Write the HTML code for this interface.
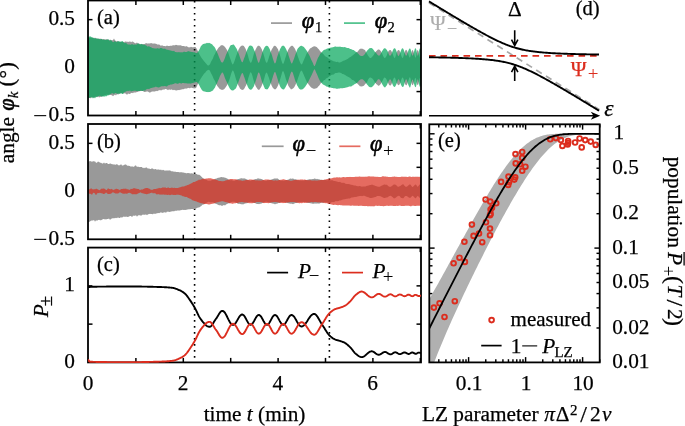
<!DOCTYPE html>
<html><head><meta charset="utf-8"><title>LZ figure</title>
<style>html,body{margin:0;padding:0;background:#fff;}body{width:685px;height:426px;overflow:hidden;font-family:"Liberation Serif",serif;}svg{display:block;will-change:transform;}</style>
</head><body>
<svg width="685" height="426" viewBox="0 0 685 426">
<defs>
<clipPath id="ca"><rect x="88.0" y="0.5" width="333.0" height="115.0"/></clipPath>
<clipPath id="cb"><rect x="88.0" y="124.0" width="333.0" height="115.3"/></clipPath>
<clipPath id="cc"><rect x="88.0" y="247.6" width="333.0" height="114.8"/></clipPath>
<clipPath id="ce"><rect x="429.3" y="124.3" width="170.4" height="238.1"/></clipPath>
</defs>
<rect width="685" height="426" fill="#fff"/>
<line x1="135.9" y1="0.5" x2="135.9" y2="5" stroke="#000" stroke-width="1.5"/>
<line x1="135.9" y1="115.5" x2="135.9" y2="111" stroke="#000" stroke-width="1.5"/>
<line x1="183.3" y1="0.5" x2="183.3" y2="5" stroke="#000" stroke-width="1.5"/>
<line x1="183.3" y1="115.5" x2="183.3" y2="111" stroke="#000" stroke-width="1.5"/>
<line x1="230.7" y1="0.5" x2="230.7" y2="5" stroke="#000" stroke-width="1.5"/>
<line x1="230.7" y1="115.5" x2="230.7" y2="111" stroke="#000" stroke-width="1.5"/>
<line x1="278.1" y1="0.5" x2="278.1" y2="5" stroke="#000" stroke-width="1.5"/>
<line x1="278.1" y1="115.5" x2="278.1" y2="111" stroke="#000" stroke-width="1.5"/>
<line x1="325.5" y1="0.5" x2="325.5" y2="5" stroke="#000" stroke-width="1.5"/>
<line x1="325.5" y1="115.5" x2="325.5" y2="111" stroke="#000" stroke-width="1.5"/>
<line x1="372.9" y1="0.5" x2="372.9" y2="5" stroke="#000" stroke-width="1.5"/>
<line x1="372.9" y1="115.5" x2="372.9" y2="111" stroke="#000" stroke-width="1.5"/>
<line x1="420.3" y1="0.5" x2="420.3" y2="5" stroke="#000" stroke-width="1.5"/>
<line x1="420.3" y1="115.5" x2="420.3" y2="111" stroke="#000" stroke-width="1.5"/>
<line x1="135.9" y1="124" x2="135.9" y2="128.5" stroke="#000" stroke-width="1.5"/>
<line x1="135.9" y1="239.3" x2="135.9" y2="234.8" stroke="#000" stroke-width="1.5"/>
<line x1="183.3" y1="124" x2="183.3" y2="128.5" stroke="#000" stroke-width="1.5"/>
<line x1="183.3" y1="239.3" x2="183.3" y2="234.8" stroke="#000" stroke-width="1.5"/>
<line x1="230.7" y1="124" x2="230.7" y2="128.5" stroke="#000" stroke-width="1.5"/>
<line x1="230.7" y1="239.3" x2="230.7" y2="234.8" stroke="#000" stroke-width="1.5"/>
<line x1="278.1" y1="124" x2="278.1" y2="128.5" stroke="#000" stroke-width="1.5"/>
<line x1="278.1" y1="239.3" x2="278.1" y2="234.8" stroke="#000" stroke-width="1.5"/>
<line x1="325.5" y1="124" x2="325.5" y2="128.5" stroke="#000" stroke-width="1.5"/>
<line x1="325.5" y1="239.3" x2="325.5" y2="234.8" stroke="#000" stroke-width="1.5"/>
<line x1="372.9" y1="124" x2="372.9" y2="128.5" stroke="#000" stroke-width="1.5"/>
<line x1="372.9" y1="239.3" x2="372.9" y2="234.8" stroke="#000" stroke-width="1.5"/>
<line x1="420.3" y1="124" x2="420.3" y2="128.5" stroke="#000" stroke-width="1.5"/>
<line x1="420.3" y1="239.3" x2="420.3" y2="234.8" stroke="#000" stroke-width="1.5"/>
<line x1="135.9" y1="247.6" x2="135.9" y2="252.1" stroke="#000" stroke-width="1.5"/>
<line x1="135.9" y1="362.4" x2="135.9" y2="357.9" stroke="#000" stroke-width="1.5"/>
<line x1="183.3" y1="247.6" x2="183.3" y2="252.1" stroke="#000" stroke-width="1.5"/>
<line x1="183.3" y1="362.4" x2="183.3" y2="357.9" stroke="#000" stroke-width="1.5"/>
<line x1="230.7" y1="247.6" x2="230.7" y2="252.1" stroke="#000" stroke-width="1.5"/>
<line x1="230.7" y1="362.4" x2="230.7" y2="357.9" stroke="#000" stroke-width="1.5"/>
<line x1="278.1" y1="247.6" x2="278.1" y2="252.1" stroke="#000" stroke-width="1.5"/>
<line x1="278.1" y1="362.4" x2="278.1" y2="357.9" stroke="#000" stroke-width="1.5"/>
<line x1="325.5" y1="247.6" x2="325.5" y2="252.1" stroke="#000" stroke-width="1.5"/>
<line x1="325.5" y1="362.4" x2="325.5" y2="357.9" stroke="#000" stroke-width="1.5"/>
<line x1="372.9" y1="247.6" x2="372.9" y2="252.1" stroke="#000" stroke-width="1.5"/>
<line x1="372.9" y1="362.4" x2="372.9" y2="357.9" stroke="#000" stroke-width="1.5"/>
<line x1="420.3" y1="247.6" x2="420.3" y2="252.1" stroke="#000" stroke-width="1.5"/>
<line x1="420.3" y1="362.4" x2="420.3" y2="357.9" stroke="#000" stroke-width="1.5"/>
<line x1="88" y1="91.57" x2="92.5" y2="91.57" stroke="#000" stroke-width="1.5"/>
<line x1="421" y1="91.57" x2="416.5" y2="91.57" stroke="#000" stroke-width="1.5"/>
<line x1="88" y1="67.6" x2="92.5" y2="67.6" stroke="#000" stroke-width="1.5"/>
<line x1="421" y1="67.6" x2="416.5" y2="67.6" stroke="#000" stroke-width="1.5"/>
<line x1="88" y1="43.62" x2="92.5" y2="43.62" stroke="#000" stroke-width="1.5"/>
<line x1="421" y1="43.62" x2="416.5" y2="43.62" stroke="#000" stroke-width="1.5"/>
<line x1="88" y1="19.65" x2="92.5" y2="19.65" stroke="#000" stroke-width="1.5"/>
<line x1="421" y1="19.65" x2="416.5" y2="19.65" stroke="#000" stroke-width="1.5"/>
<line x1="88" y1="215.28" x2="92.5" y2="215.28" stroke="#000" stroke-width="1.5"/>
<line x1="421" y1="215.28" x2="416.5" y2="215.28" stroke="#000" stroke-width="1.5"/>
<line x1="88" y1="191.3" x2="92.5" y2="191.3" stroke="#000" stroke-width="1.5"/>
<line x1="421" y1="191.3" x2="416.5" y2="191.3" stroke="#000" stroke-width="1.5"/>
<line x1="88" y1="167.33" x2="92.5" y2="167.33" stroke="#000" stroke-width="1.5"/>
<line x1="421" y1="167.33" x2="416.5" y2="167.33" stroke="#000" stroke-width="1.5"/>
<line x1="88" y1="143.35" x2="92.5" y2="143.35" stroke="#000" stroke-width="1.5"/>
<line x1="421" y1="143.35" x2="416.5" y2="143.35" stroke="#000" stroke-width="1.5"/>
<line x1="88" y1="324.13" x2="92.5" y2="324.13" stroke="#000" stroke-width="1.5"/>
<line x1="421" y1="324.13" x2="416.5" y2="324.13" stroke="#000" stroke-width="1.5"/>
<line x1="88" y1="285.87" x2="92.5" y2="285.87" stroke="#000" stroke-width="1.5"/>
<line x1="421" y1="285.87" x2="416.5" y2="285.87" stroke="#000" stroke-width="1.5"/>
<g clip-path="url(#ca)">
<path d="M88 37.8 L88.5 37.73 L89 37.66 L89.5 37.74 L90 37.82 L90.5 37.61 L91 37.4 L91.5 37.66 L92 37.93 L92.5 37.77 L93 37.61 L93.5 38.11 L94 38.6 L94.5 38.11 L95 37.61 L95.5 38.04 L96 38.46 L96.5 38.44 L97 38.41 L97.5 38.49 L98 38.57 L98.5 38.64 L99 38.73 L99.5 38.87 L100 39.03 L100.5 38.74 L101 38.48 L101.5 38.95 L102 39.44 L102.5 39.29 L103 39.15 L103.5 39.02 L104 38.9 L104.5 39.41 L105 39.91 L105.5 39.44 L106 38.95 L106.5 39.29 L107 39.59 L107.5 39.4 L108 39.18 L108.5 39.81 L109 40.42 L109.5 39.95 L110 39.47 L110.5 39.81 L111 40.14 L111.5 40.14 L112 40.15 L112.5 40.14 L113 40.15 L113.5 39.3 L114 38.49 L114.5 39.39 L115 40.31 L115.5 40.69 L116 41.08 L116.5 41.27 L117 41.47 L117.5 41.15 L118 40.81 L118.5 41.39 L119 41.93 L119.5 41.86 L120 41.74 L120.5 41.85 L121 41.94 L121.5 41.85 L122 41.74 L122.5 41.79 L123 41.84 L123.5 42.06 L124 42.27 L124.5 41.88 L125 41.5 L125.5 41.53 L126 41.58 L126.5 41.7 L127 41.83 L127.5 41.81 L128 41.81 L128.5 41.84 L129 41.9 L129.5 41.55 L130 41.22 L130.5 41.71 L131 42.21 L131.5 41.88 L132 41.55 L132.5 41.62 L133 41.69 L133.5 42.07 L134 42.45 L134.5 42.85 L135 43.24 L135.5 43.2 L136 43.17 L136.5 42.84 L137 42.51 L137.5 43.04 L138 43.55 L138.5 43.5 L139 43.43 L139.5 43.87 L140 44.28 L140.5 44.15 L141 44.01 L141.5 44.14 L142 44.26 L142.5 44.08 L143 43.89 L143.5 44.05 L144 44.19 L144.5 43.94 L145 43.69 L145.5 43.39 L146 43.08 L146.5 43.25 L147 43.42 L147.5 43.51 L148 43.6 L148.5 43.48 L149 43.37 L149.5 43.45 L150 43.54 L150.5 43.23 L151 42.93 L151.5 43.15 L152 43.37 L152.5 43.55 L153 43.73 L153.5 43.61 L154 43.5 L154.5 43.53 L155 43.58 L155.5 43.65 L156 43.72 L156.5 44.01 L157 44.29 L157.5 44.47 L158 44.65 L158.5 44.41 L159 44.17 L159.5 44.73 L160 45.28 L160.5 45.5 L161 45.7 L161.5 45.49 L162 45.27 L162.5 45.52 L163 45.74 L163.5 45.91 L164 46.06 L164.5 46.09 L165 46.11 L165.5 46.16 L166 46.2 L166.5 45.87 L167 45.53 L167.5 45.79 L168 46.03 L168.5 46.02 L169 46.01 L169.5 45.94 L170 45.87 L170.5 45.86 L171 45.85 L171.5 45.76 L172 45.67 L172.5 45.38 L173 45.1 L173.5 45.3 L174 45.51 L174.5 45.36 L175 45.22 L175.5 45.02 L176 44.82 L176.5 44.93 L177 45.05 L177.5 45.21 L178 45.38 L178.5 45.26 L179 45.16 L179.5 45.3 L180 45.45 L180.5 45.37 L181 45.31 L181.5 45.65 L182 45.99 L182.5 45.98 L183 45.98 L183.5 45.96 L184 45.94 L184.5 46.27 L185 46.6 L185.5 46.44 L186 46.28 L186.5 46.32 L187 46.36 L187.5 46.82 L188 47.26 L188.5 47.21 L189 47.15 L189.5 47.34 L190 47.52 L190.5 47.12 L191 46.71 L191.5 46.97 L192 47.21 L192.5 47.2 L193 47.17 L193.5 47.16 L194 47.12 L194.5 46.95 L195 46.88 L195.5 47.12 L196 47.65 L196.5 48.43 L197 49.44 L197.5 50.41 L198 51.33 L198.5 52.41 L199 53.49 L199.5 54.39 L200 55.2 L200.5 56.17 L201 57.12 L201.5 57.88 L202 58.62 L202.5 59.15 L203 59.67 L203.5 60.5 L204 61.31 L204.5 61.85 L205 62.34 L205.5 62.88 L206 63.38 L206.5 64.03 L207 64.66 L207.5 65.13 L208 65.51 L208.5 65.58 L209 65.3 L209.5 64.87 L210 64.24 L210.5 63.06 L211 61.81 L211.5 60.98 L212 60.11 L212.5 59.19 L213 58.26 L213.5 56.87 L214 55.49 L214.5 54.65 L215 53.83 L215.5 52.65 L216 51.51 L216.5 50.75 L217 50.04 L217.5 49.2 L218 48.42 L218.5 47.74 L219 47.15 L219.5 46.73 L220 46.4 L220.5 45.81 L221 45.3 L221.5 45.19 L222 45.17 L222.5 45.15 L223 45.22 L223.5 45.66 L224 46.21 L224.5 46.59 L225 47.08 L225.5 47.73 L226 48.49 L226.5 49.2 L227 50.02 L227.5 51.05 L228 52.19 L228.5 53.53 L229 54.95 L229.5 56.43 L230 57.97 L230.5 59.33 L231 60.71 L231.5 62.2 L232 63.57 L232.5 64.39 L233 64.37 L233.5 63.52 L234 62.2 L234.5 60.91 L235 59.57 L235.5 57.89 L236 56.23 L236.5 54.93 L237 53.69 L237.5 52.24 L238 50.89 L238.5 49.81 L239 48.85 L239.5 47.9 L240 47.08 L240.5 46.54 L241 46.14 L241.5 45.74 L242 45.5 L242.5 45.5 L243 45.67 L243.5 45.81 L244 46.13 L244.5 46.91 L245 47.85 L245.5 48.71 L246 49.73 L246.5 51.21 L247 52.82 L247.5 54.29 L248 55.86 L248.5 57.67 L249 59.48 L249.5 60.89 L250 62.04 L250.5 62.81 L251 62.69 L251.5 61.95 L252 60.72 L252.5 59 L253 57.22 L253.5 55.33 L254 53.5 L254.5 52.14 L255 50.9 L255.5 49.74 L256 48.74 L256.5 47.79 L257 47.01 L257.5 46.32 L258 45.82 L258.5 45.7 L259 45.78 L259.5 46 L260 46.41 L260.5 47.12 L261 48.01 L261.5 48.85 L262 49.86 L262.5 51.17 L263 52.62 L263.5 54.17 L264 55.79 L264.5 57.62 L265 59.42 L265.5 60.98 L266 62.21 L266.5 62.83 L267 62.64 L267.5 61.63 L268 60.2 L268.5 58.66 L269 57.05 L269.5 55.45 L270 53.91 L270.5 52.53 L271 51.26 L271.5 50.08 L272 49.04 L272.5 48.14 L273 47.4 L273.5 46.6 L274 45.98 L274.5 45.83 L275 45.87 L275.5 46.06 L276 46.45 L276.5 46.94 L277 47.63 L277.5 48.39 L278 49.33 L278.5 50.65 L279 52.11 L279.5 53.63 L280 55.25 L280.5 57.1 L281 58.99 L281.5 60.66 L282 62.23 L282.5 63.51 L283 64.04 L283.5 63.5 L284 62.24 L284.5 60.67 L285 59.01 L285.5 57.46 L286 55.95 L286.5 54.25 L287 52.64 L287.5 51.38 L288 50.23 L288.5 49.24 L289 48.38 L289.5 47.67 L290 47.11 L290.5 46.57 L291 46.18 L291.5 45.84 L292 45.66 L292.5 45.87 L293 46.24 L293.5 46.76 L294 47.43 L294.5 48.09 L295 48.89 L295.5 50.07 L296 51.36 L296.5 52.56 L297 53.86 L297.5 55.43 L298 57.04 L298.5 58.37 L299 59.7 L299.5 61 L300 62.21 L300.5 63.3 L301 64 L301.5 64.42 L302 64.13 L302.5 63.17 L303 62.08 L303.5 60.87 L304 59.66 L304.5 58.55 L305 57.47 L305.5 56.25 L306 55.09 L306.5 54 L307 52.96 L307.5 52.33 L308 51.76 L308.5 50.86 L309 50.02 L309.5 49.26 L310 48.56 L310.5 48.23 L311 47.96 L311.5 47.63 L312 47.36 L312.5 47.02 L313 46.73 L313.5 46.47 L314 46.28 L314.5 46.31 L315 46.42 L315.5 46.49 L316 46.65 L316.5 46.97 L317 47.37 L317.5 47.94 L318 48.58 L318.5 49.04 L319 49.55 L319.5 50.25 L320 50.96 L320.5 51.57 L321 52.15 L321.5 52.38 L322 52.57 L322.5 53.16 L323 53.74 L323.5 54.28 L324 54.82 L324.5 55.4 L325 55.96 L325.5 56.38 L326 56.8 L326.5 56.93 L327 57.05 L327.5 57.59 L328 58.11 L328.5 58.4 L329 58.68 L329.5 59.11 L330 59.53 L330.5 59.82 L331 60.11 L331.5 60.34 L332 60.57 L332.5 60.67 L333 60.76 L333.5 61.19 L334 61.61 L334.5 61.44 L335 61.25 L335.5 61.7 L336 62.12 L336.5 62.04 L337 61.94 L337.5 61.81 L338 61.65 L338.5 62.15 L339 62.63 L339.5 62.42 L340 62.15 L340.5 62.22 L341 62.26 L341.5 61.86 L342 61.45 L342.5 61.26 L343 61.06 L343.5 60.78 L344 60.49 L344.5 60.4 L345 60.31 L345.5 60.05 L346 59.8 L346.5 59.51 L347 59.22 L347.5 58.93 L348 58.64 L348.5 58.2 L349 57.76 L349.5 57.48 L350 57.2 L350.5 56.93 L351 56.66 L351.5 56.17 L352 55.67 L352.5 55.41 L353 55.15 L353.5 54.75 L354 54.35 L354.5 53.9 L355 53.45 L355.5 53.03 L356 52.6 L356.5 52.37 L357 52.1 L357.5 51.64 L358 51.17 L358.5 50.47 L359 49.81 L359.5 49.35 L360 48.95 L360.5 48.74 L361 48.6 L361.5 48.68 L362 48.84 L362.5 48.86 L363 48.96 L363.5 49.29 L364 49.72 L364.5 49.79 L365 49.95 L365.5 51.01 L366 52.15 L366.5 52.96 L367 53.82 L367.5 54.68 L368 55.54 L368.5 56.18 L369 56.73 L369.5 57.42 L370 57.91 L370.5 58.03 L371 57.96 L371.5 57.5 L372 56.86 L372.5 56.42 L373 55.88 L373.5 55.2 L374 54.5 L374.5 53.48 L375 52.49 L375.5 51.97 L376 51.52 L376.5 50.99 L377 50.56 L377.5 49.95 L378 49.47 L378.5 49.41 L379 49.48 L379.5 49.77 L380 50.23 L380.5 50.77 L381 51.49 L381.5 52.4 L382 53.43 L382.5 54.59 L383 55.76 L383.5 56.73 L384 57.49 L384.5 57.94 L385 57.98 L385.5 57.6 L386 56.86 L386.5 55.88 L387 54.77 L387.5 53.35 L388 51.99 L388.5 51.19 L389 50.6 L389.5 50.17 L390 50.04 L390.5 50.05 L391 50.41 L391.5 51.19 L392 52.28 L392.5 53.46 L393 54.75 L393.5 56.32 L394 57.54 L394.5 58 L395 57.68 L395.5 56.55 L396 55.02 L396.5 53.31 L397 51.75 L397.5 50.82 L398 50.3 L398.5 49.93 L399 50.02 L399.5 50.75 L400 51.84 L400.5 53.17 L401 54.67 L401.5 56.16 L402 57.39 L402.5 58.02 L403 57.75 L403.5 56.29 L404 54.32 L404.5 52.77 L405 51.49 L405.5 50.37 L406 49.84 L406.5 50.01 L407 50.68 L407.5 51.79 L408 53.22 L408.5 54.87 L409 56.5 L409.5 57.5 L410 57.45 L410.5 56.35 L411 54.3 L411.5 52.01 L412 50.45 L412.5 50.02 L413 50.53 L413.5 51.72 L414 53.43 L414.5 55.24 L415 56.9 L415.5 57.85 L416 56.92 L416.5 54.15 L417 51.31 L417.5 50.05 L418 50.21 L418.5 51.47 L419 53.8 L419.5 56.28 L420 57.68 L420.5 57.11 L421 54.94 L421 80.19 L420.5 78.14 L420 77.69 L419.5 79.01 L419 81.41 L418.5 83.7 L418 84.92 L417.5 85.11 L417 83.88 L416.5 81.36 L416 78.91 L415.5 77.7 L415 78.37 L414.5 80.08 L414 81.92 L413.5 83.64 L413 84.83 L412.5 85.31 L412 84.86 L411.5 83.25 L411 80.91 L410.5 78.6 L410 77.24 L409.5 77.51 L409 78.82 L408.5 80.3 L408 81.8 L407.5 83.29 L407 84.45 L406.5 85.13 L406 85.3 L405.5 84.8 L405 83.7 L404.5 82.3 L404 80.62 L403.5 78.92 L403 77.74 L402.5 77.47 L402 78.12 L401.5 79.2 L401 80.53 L400.5 82.14 L400 83.58 L399.5 84.49 L399 85.04 L398.5 85.28 L398 85.05 L397.5 84.35 L397 83.24 L396.5 81.91 L396 80.43 L395.5 79.03 L395 78.03 L394.5 77.48 L394 77.72 L393.5 78.69 L393 80.01 L392.5 81.57 L392 83.02 L391.5 84.22 L391 85.12 L390.5 85.48 L390 85.51 L389.5 85.24 L389 84.68 L388.5 83.82 L388 82.75 L387.5 81.65 L387 80.48 L386.5 79.48 L386 78.61 L385.5 77.95 L385 77.65 L384.5 77.44 L384 77.65 L383.5 78.66 L383 79.87 L382.5 80.74 L382 81.61 L381.5 82.57 L381 83.41 L380.5 84.13 L380 84.69 L379.5 85.36 L379 85.86 L378.5 85.7 L378 85.41 L377.5 85.02 L377 84.52 L376.5 84.14 L376 83.68 L375.5 83.09 L375 82.45 L374.5 81.64 L374 80.8 L373.5 80.04 L373 79.31 L372.5 78.77 L372 78.32 L371.5 77.96 L371 77.77 L370.5 77.51 L370 77.43 L369.5 77.75 L369 78.29 L368.5 78.93 L368 79.68 L367.5 81 L367 82.33 L366.5 82.8 L366 83.23 L365.5 83.82 L365 84.34 L364.5 85 L364 85.56 L363.5 85.88 L363 86.1 L362.5 86.35 L362 86.51 L361.5 86.4 L361 86.2 L360.5 86.36 L360 86.44 L359.5 85.87 L359 85.23 L358.5 84.75 L358 84.23 L357.5 83.71 L357 83.18 L356.5 82.94 L356 82.74 L355.5 82.11 L355 81.48 L354.5 81.05 L354 80.63 L353.5 80.35 L353 80.08 L352.5 79.9 L352 79.74 L351.5 79.28 L351 78.82 L350.5 78.37 L350 77.93 L349.5 77.6 L349 77.27 L348.5 76.98 L348 76.69 L347.5 76.51 L347 76.33 L346.5 75.96 L346 75.59 L345.5 75.34 L345 75.09 L344.5 74.71 L344 74.33 L343.5 74.2 L343 74.08 L342.5 73.88 L342 73.69 L341.5 73.32 L341 72.96 L340.5 72.83 L340 72.72 L339.5 72.6 L339 72.54 L338.5 72.58 L338 72.66 L337.5 72.82 L337 73.02 L336.5 72.96 L336 72.92 L335.5 73.06 L335 73.21 L334.5 73.67 L334 74.14 L333.5 74.39 L333 74.64 L332.5 74.63 L332 74.62 L331.5 74.9 L331 75.2 L330.5 75.64 L330 76.09 L329.5 76.28 L329 76.49 L328.5 76.93 L328 77.38 L327.5 77.76 L327 78.16 L326.5 78.34 L326 78.53 L325.5 79.31 L325 80.1 L324.5 80.1 L324 80.12 L323.5 80.71 L323 81.31 L322.5 81.88 L322 82.47 L321.5 82.72 L321 83.01 L320.5 83.72 L320 84.47 L319.5 85.13 L319 85.79 L318.5 86.28 L318 86.74 L317.5 87.43 L317 88.05 L316.5 88.2 L316 88.27 L315.5 88.53 L315 88.71 L314.5 88.79 L314 88.8 L313.5 88.64 L313 88.41 L312.5 88.26 L312 88.04 L311.5 87.65 L311 87.2 L310.5 86.71 L310 86.17 L309.5 85.58 L309 84.93 L308.5 84.26 L308 83.55 L307.5 82.95 L307 82.29 L306.5 81.17 L306 80.01 L305.5 78.96 L305 77.87 L304.5 76.71 L304 75.51 L303.5 74.33 L303 73.16 L302.5 72.04 L302 71.07 L301.5 70.62 L301 70.88 L300.5 71.47 L300 72.44 L299.5 73.88 L299 75.4 L298.5 76.83 L298 78.25 L297.5 79.81 L297 81.33 L296.5 82.55 L296 83.69 L295.5 84.83 L295 85.86 L294.5 86.71 L294 87.42 L293.5 88.03 L293 88.49 L292.5 88.78 L292 88.92 L291.5 89.25 L291 89.44 L290.5 88.81 L290 88.02 L289.5 87.45 L289 86.73 L288.5 85.94 L288 85 L287.5 83.59 L287 82.05 L286.5 80.86 L286 79.57 L285.5 77.74 L285 75.87 L284.5 74.27 L284 72.76 L283.5 71.55 L283 71.08 L282.5 71.59 L282 72.87 L281.5 74.63 L281 76.49 L280.5 78.2 L280 79.87 L279.5 81.4 L279 82.82 L278.5 84.22 L278 85.48 L277.5 86.53 L277 87.41 L276.5 88.22 L276 88.83 L275.5 89.24 L275 89.46 L274.5 89.24 L274 88.83 L273.5 88.53 L273 88.05 L272.5 87.27 L272 86.32 L271.5 85.16 L271 83.85 L270.5 82.65 L270 81.33 L269.5 79.7 L269 78.02 L268.5 76.73 L268 75.5 L267.5 74.04 L267 73 L266.5 72.54 L266 72.9 L265.5 74.1 L265 75.62 L264.5 77.46 L264 79.33 L263.5 80.8 L263 82.19 L262.5 83.65 L262 84.98 L261.5 86.15 L261 87.15 L260.5 88.04 L260 88.73 L259.5 89.43 L259 89.92 L258.5 89.77 L258 89.42 L257.5 88.96 L257 88.3 L256.5 87.61 L256 86.74 L255.5 85.71 L255 84.53 L254.5 83.04 L254 81.43 L253.5 79.89 L253 78.29 L252.5 76.36 L252 74.5 L251.5 73.2 L251 72.38 L250.5 72.26 L250 73.03 L249.5 74.38 L249 75.98 L248.5 77.57 L248 79.16 L247.5 81.19 L247 83.14 L246.5 84.32 L246 85.38 L245.5 86.36 L245 87.19 L244.5 88.22 L244 89.07 L243.5 89.5 L243 89.76 L242.5 89.89 L242 89.86 L241.5 89.66 L241 89.31 L240.5 88.93 L240 88.39 L239.5 87.56 L239 86.59 L238.5 85.66 L238 84.62 L237.5 83.29 L237 81.87 L236.5 80.61 L236 79.3 L235.5 77.46 L235 75.59 L234.5 74.08 L234 72.61 L233.5 71.27 L233 70.4 L232.5 70.52 L232 71.5 L231.5 72.85 L231 74.33 L230.5 76.1 L230 77.86 L229.5 79.31 L229 80.7 L228.5 81.92 L228 83.05 L227.5 84.17 L227 85.18 L226.5 86.05 L226 86.8 L225.5 87.6 L225 88.29 L224.5 88.79 L224 89.17 L223.5 89.5 L223 89.73 L222.5 89.85 L222 89.88 L221.5 89.73 L221 89.49 L220.5 89.36 L220 89.14 L219.5 88.64 L219 88.04 L218.5 87.49 L218 86.87 L217.5 86.18 L217 85.43 L216.5 84.47 L216 83.46 L215.5 82.3 L215 81.1 L214.5 80.36 L214 79.6 L213.5 78.4 L213 77.2 L212.5 76.05 L212 74.93 L211.5 74.09 L211 73.3 L210.5 72.08 L210 70.94 L209.5 70.37 L209 70.01 L208.5 69.83 L208 69.99 L207.5 70.2 L207 70.5 L206.5 70.99 L206 71.51 L205.5 72.21 L205 72.94 L204.5 73.35 L204 73.81 L203.5 74.59 L203 75.37 L202.5 75.99 L202 76.62 L201.5 77.43 L201 78.26 L200.5 79.07 L200 79.91 L199.5 80.71 L199 81.61 L198.5 82.68 L198 83.76 L197.5 84.84 L197 85.96 L196.5 87.12 L196 88.04 L195.5 88.33 L195 88.33 L194.5 88.38 L194 88.32 L193.5 88.23 L193 88.17 L192.5 88.04 L192 87.92 L191.5 87.75 L191 87.6 L190.5 87.9 L190 88.22 L189.5 88.13 L189 88.05 L188.5 87.94 L188 87.84 L187.5 88.18 L187 88.53 L186.5 88.58 L186 88.64 L185.5 88.61 L185 88.58 L184.5 88.82 L184 89.06 L183.5 89.13 L183 89.2 L182.5 89.22 L182 89.23 L181.5 89.43 L181 89.63 L180.5 89.73 L180 89.83 L179.5 90.02 L179 90.21 L178.5 90.1 L178 89.97 L177.5 90.16 L177 90.34 L176.5 90.38 L176 90.42 L175.5 90.33 L175 90.24 L174.5 90.06 L174 89.86 L173.5 90.12 L173 90.37 L172.5 89.95 L172 89.51 L171.5 89.56 L171 89.61 L170.5 89.78 L170 89.95 L169.5 89.54 L169 89.13 L168.5 89.68 L168 90.24 L167.5 89.85 L167 89.47 L166.5 89.24 L166 89.02 L165.5 89.06 L165 89.1 L164.5 89.38 L164 89.68 L163.5 89.54 L163 89.41 L162.5 89.68 L162 89.97 L161.5 90.22 L161 90.48 L160.5 90.2 L160 89.92 L159.5 90.14 L159 90.37 L158.5 90.54 L158 90.71 L157.5 90.93 L157 91.15 L156.5 91 L156 90.84 L155.5 91.2 L155 91.56 L154.5 91.48 L154 91.4 L153.5 91.49 L153 91.58 L152.5 91.59 L152 91.59 L151.5 91.82 L151 92.03 L150.5 92.33 L150 92.63 L149.5 92.4 L149 92.16 L148.5 91.89 L148 91.61 L147.5 91.55 L147 91.48 L146.5 91.6 L146 91.72 L145.5 91.85 L145 91.99 L144.5 91.89 L144 91.79 L143.5 91.43 L143 91.09 L142.5 91.07 L142 91.07 L141.5 90.98 L141 90.9 L140.5 91.05 L140 91.21 L139.5 91.24 L139 91.29 L138.5 91.57 L138 91.86 L137.5 91.96 L137 92.06 L136.5 92.2 L136 92.35 L135.5 92.5 L135 92.66 L134.5 92.45 L134 92.24 L133.5 92.74 L133 93.24 L132.5 93.04 L132 92.83 L131.5 92.91 L131 92.98 L130.5 93.46 L130 93.94 L129.5 93.88 L129 93.8 L128.5 93.65 L128 93.47 L127.5 94.2 L127 94.91 L126.5 94.29 L126 93.66 L125.5 93.61 L125 93.55 L124.5 93.37 L124 93.18 L123.5 93.6 L123 94.03 L122.5 93.4 L122 92.79 L121.5 92.98 L121 93.18 L120.5 93.26 L120 93.36 L119.5 93.65 L119 93.97 L118.5 94.32 L118 94.71 L117.5 94.32 L117 93.94 L116.5 94.66 L116 95.38 L115.5 94.96 L115 94.51 L114.5 94.88 L114 95.21 L113.5 95.8 L113 96.37 L112.5 95.86 L112 95.32 L111.5 95.13 L111 94.91 L110.5 94.9 L110 94.88 L109.5 94.75 L109 94.62 L108.5 94.69 L108 94.77 L107.5 94.77 L107 94.8 L106.5 94.82 L106 94.86 L105.5 94.96 L105 95.08 L104.5 95.25 L104 95.43 L103.5 95.66 L103 95.89 L102.5 96.18 L102 96.45 L101.5 96.6 L101 96.73 L100.5 96.82 L100 96.9 L99.5 97.17 L99 97.43 L98.5 96.84 L98 96.25 L97.5 96.83 L97 97.42 L96.5 97.12 L96 96.83 L95.5 96.7 L95 96.59 L94.5 97.42 L94 98.27 L93.5 97.73 L93 97.2 L92.5 97.15 L92 97.1 L91.5 97.73 L91 98.37 L90.5 98.24 L90 98.11 L89.5 98.1 L89 98.09 L88.5 98.32 L88 98.56Z" fill="#999999"/>
<line x1="194.6" y1="1.0" x2="194.6" y2="115.5" stroke="#000" stroke-width="1.6" stroke-dasharray="1.6 4.4"/>
<line x1="329.4" y1="1.0" x2="329.4" y2="115.5" stroke="#000" stroke-width="1.6" stroke-dasharray="1.6 4.4"/>
<path d="M88 36.99 L88.5 36.91 L89 36.83 L89.5 36.55 L90 36.27 L90.5 36.46 L91 36.65 L91.5 37.08 L92 37.52 L92.5 37.55 L93 37.58 L93.5 37.93 L94 38.28 L94.5 38.32 L95 38.38 L95.5 38.3 L96 38.23 L96.5 38.47 L97 38.72 L97.5 38.78 L98 38.84 L98.5 38.8 L99 38.76 L99.5 39.1 L100 39.42 L100.5 39.23 L101 39.02 L101.5 39.03 L102 39.02 L102.5 39.51 L103 39.98 L103.5 39.69 L104 39.39 L104.5 39.56 L105 39.73 L105.5 39.81 L106 39.91 L106.5 39.78 L107 39.67 L107.5 39.43 L108 39.21 L108.5 39.6 L109 40.01 L109.5 40.48 L110 40.95 L110.5 40.3 L111 39.66 L111.5 40.48 L112 41.28 L112.5 41.76 L113 42.2 L113.5 42.05 L114 41.86 L114.5 41.36 L115 40.82 L115.5 41.49 L116 42.13 L116.5 42 L117 41.86 L117.5 41.46 L118 41.08 L118.5 41.32 L119 41.58 L119.5 41.54 L120 41.54 L120.5 41.69 L121 41.86 L121.5 41.47 L122 41.1 L122.5 41.36 L123 41.62 L123.5 42.24 L124 42.86 L124.5 43.03 L125 43.19 L125.5 42.91 L126 42.62 L126.5 43.3 L127 43.97 L127.5 44.28 L128 44.56 L128.5 44.58 L129 44.58 L129.5 44.56 L130 44.53 L130.5 44.68 L131 44.82 L131.5 44.37 L132 43.9 L132.5 44.35 L133 44.79 L133.5 44.63 L134 44.47 L134.5 44.58 L135 44.68 L135.5 44.55 L136 44.42 L136.5 44.47 L137 44.53 L137.5 43.85 L138 43.19 L138.5 43.54 L139 43.91 L139.5 44.24 L140 44.58 L140.5 44.35 L141 44.13 L141.5 43.92 L142 43.74 L142.5 44.46 L143 45.2 L143.5 44.76 L144 44.33 L144.5 44.77 L145 45.21 L145.5 45.27 L146 45.35 L146.5 45.74 L147 46.13 L147.5 46.43 L148 46.74 L148.5 46.33 L149 45.93 L149.5 46.61 L150 47.27 L150.5 47.08 L151 46.89 L151.5 47.39 L152 47.88 L152.5 48.05 L153 48.21 L153.5 48.25 L154 48.29 L154.5 48.44 L155 48.58 L155.5 48.51 L156 48.43 L156.5 48.46 L157 48.48 L157.5 48.21 L158 47.94 L158.5 48.42 L159 48.9 L159.5 48.41 L160 47.93 L160.5 47.9 L161 47.88 L161.5 48.08 L162 48.29 L162.5 48.48 L163 48.69 L163.5 48.75 L164 48.81 L164.5 48.68 L165 48.56 L165.5 49.01 L166 49.47 L166.5 49.57 L167 49.68 L167.5 49.75 L168 49.83 L168.5 50.02 L169 50.21 L169.5 50.28 L170 50.34 L170.5 50.59 L171 50.83 L171.5 50.75 L172 50.66 L172.5 50.99 L173 51.31 L173.5 51 L174 50.68 L174.5 51.34 L175 51.99 L175.5 52.06 L176 52.12 L176.5 52.14 L177 52.15 L177.5 52.18 L178 52.19 L178.5 52.14 L179 52.08 L179.5 52.3 L180 52.51 L180.5 52.34 L181 52.16 L181.5 52.28 L182 52.38 L182.5 52.37 L183 52.35 L183.5 51.99 L184 51.62 L184.5 51.76 L185 51.89 L185.5 51.96 L186 52.03 L186.5 51.9 L187 51.77 L187.5 51.54 L188 51.32 L188.5 51.22 L189 51.13 L189.5 51.41 L190 51.69 L190.5 51.75 L191 51.84 L191.5 51.88 L192 51.95 L192.5 52.06 L193 52.18 L193.5 52.15 L194 52.13 L194.5 52.27 L195 52.44 L195.5 52.79 L196 53.04 L196.5 53.1 L197 52.97 L197.5 52.49 L198 51.83 L198.5 51.09 L199 50.23 L199.5 49.22 L200 48.21 L200.5 47.11 L201 46.06 L201.5 45.58 L202 45.22 L202.5 44.51 L203 43.97 L203.5 43.88 L204 43.83 L204.5 43.7 L205 43.61 L205.5 43.51 L206 43.42 L206.5 43.12 L207 42.83 L207.5 43.03 L208 43.24 L208.5 43 L209 42.81 L209.5 43.04 L210 43.3 L210.5 43.46 L211 43.66 L211.5 43.91 L212 44.22 L212.5 44.78 L213 45.42 L213.5 45.96 L214 46.57 L214.5 47.06 L215 47.63 L215.5 48.73 L216 49.91 L216.5 51.02 L217 52.21 L217.5 53.3 L218 54.44 L218.5 55.7 L219 56.99 L219.5 58.14 L220 59.26 L220.5 60.51 L221 61.63 L221.5 62.2 L222 62.42 L222.5 62.52 L223 62.15 L223.5 61.3 L224 60.23 L224.5 59.01 L225 57.72 L225.5 56.22 L226 54.72 L226.5 53.66 L227 52.63 L227.5 51.42 L228 50.27 L228.5 49.23 L229 48.29 L229.5 47.23 L230 46.29 L230.5 45.62 L231 45.07 L231.5 44.96 L232 44.98 L232.5 44.67 L233 44.49 L233.5 44.55 L234 44.73 L234.5 45.39 L235 46.18 L235.5 46.88 L236 47.7 L236.5 48.51 L237 49.43 L237.5 50.68 L238 52.03 L238.5 53.26 L239 54.56 L239.5 56.03 L240 57.51 L240.5 58.92 L241 60.23 L241.5 61.46 L242 62.27 L242.5 62.18 L243 61.43 L243.5 60.07 L244 58.42 L244.5 57.18 L245 55.89 L245.5 54.43 L246 53.02 L246.5 51.54 L247 50.16 L247.5 48.98 L248 47.95 L248.5 47.01 L249 46.23 L249.5 45.82 L250 45.59 L250.5 45.52 L251 45.63 L251.5 45.69 L252 45.94 L252.5 46.55 L253 47.35 L253.5 48.41 L254 49.64 L254.5 50.65 L255 51.8 L255.5 53.46 L256 55.22 L256.5 57.09 L257 58.96 L257.5 60.6 L258 61.98 L258.5 62.76 L259 62.68 L259.5 61.51 L260 59.84 L260.5 58.45 L261 56.98 L261.5 55.24 L262 53.56 L262.5 52.08 L263 50.72 L263.5 49.56 L264 48.56 L264.5 47.52 L265 46.66 L265.5 46.18 L266 45.91 L266.5 45.79 L267 45.86 L267.5 46.01 L268 46.34 L268.5 47.02 L269 47.87 L269.5 48.7 L270 49.69 L270.5 51.14 L271 52.72 L271.5 54.03 L272 55.44 L272.5 57.19 L273 58.99 L273.5 60.56 L274 61.99 L274.5 63.19 L275 63.57 L275.5 62.95 L276 61.67 L276.5 59.63 L277 57.49 L277.5 56.05 L278 54.67 L278.5 53.13 L279 51.7 L279.5 50.43 L280 49.32 L280.5 48.26 L281 47.38 L281.5 46.57 L282 45.95 L282.5 45.79 L283 45.83 L283.5 45.7 L284 45.75 L284.5 46.44 L285 47.31 L285.5 48.12 L286 49.07 L286.5 50.11 L287 51.27 L287.5 52.35 L288 53.52 L288.5 55.17 L289 56.87 L289.5 58.34 L290 59.81 L290.5 61.25 L291 62.49 L291.5 63.39 L292 63.52 L292.5 62.62 L293 61.19 L293.5 59.96 L294 58.65 L294.5 57.18 L295 55.75 L295.5 54.3 L296 52.95 L296.5 51.39 L297 49.94 L297.5 49.06 L298 48.31 L298.5 47.69 L299 47.2 L299.5 46.64 L300 46.22 L300.5 45.93 L301 45.76 L301.5 45.81 L302 45.96 L302.5 46.18 L303 46.49 L303.5 46.87 L304 47.32 L304.5 47.86 L305 48.48 L305.5 49.12 L306 49.82 L306.5 50.4 L307 51.03 L307.5 52.08 L308 53.17 L308.5 53.95 L309 54.77 L309.5 55.75 L310 56.77 L310.5 57.95 L311 59.16 L311.5 60.19 L312 61.24 L312.5 62.3 L313 63.37 L313.5 64.63 L314 65.8 L314.5 66.15 L315 65.41 L315.5 64.31 L316 63.08 L316.5 61.61 L317 60.14 L317.5 58.95 L318 57.82 L318.5 57.01 L319 56.27 L319.5 55.22 L320 54.27 L320.5 53.62 L321 53.07 L321.5 52.52 L322 52.05 L322.5 51.36 L323 50.7 L323.5 50.36 L324 50.05 L324.5 49.78 L325 49.53 L325.5 49.43 L326 49.36 L326.5 48.89 L327 48.44 L327.5 48.45 L328 48.49 L328.5 48.23 L329 47.99 L329.5 47.92 L330 47.86 L330.5 47.65 L331 47.46 L331.5 47.48 L332 47.5 L332.5 47.34 L333 47.18 L333.5 47.1 L334 47.02 L334.5 46.68 L335 46.34 L335.5 46.51 L336 46.68 L336.5 46.68 L337 46.69 L337.5 46.76 L338 46.85 L338.5 46.85 L339 46.87 L339.5 46.72 L340 46.59 L340.5 46.73 L341 46.88 L341.5 46.9 L342 46.92 L342.5 47.08 L343 47.24 L343.5 47.15 L344 47.06 L344.5 47.12 L345 47.18 L345.5 47.31 L346 47.46 L346.5 47.67 L347 47.89 L347.5 47.93 L348 47.99 L348.5 48.1 L349 48.22 L349.5 48.58 L350 48.96 L350.5 48.92 L351 48.9 L351.5 49.27 L352 49.65 L352.5 49.77 L353 49.91 L353.5 50.12 L354 50.34 L354.5 50.75 L355 51.18 L355.5 51.49 L356 51.83 L356.5 52.15 L357 52.53 L357.5 53.01 L358 53.52 L358.5 54.08 L359 54.62 L359.5 55.13 L360 55.58 L360.5 55.8 L361 55.9 L361.5 55.98 L362 55.93 L362.5 55.94 L363 55.82 L363.5 55.51 L364 55.07 L364.5 54.42 L365 53.69 L365.5 53.03 L366 52.35 L366.5 51.53 L367 50.73 L367.5 50.23 L368 49.8 L368.5 49.17 L369 48.63 L369.5 48.27 L370 48.04 L370.5 48.08 L371 48.23 L371.5 48.08 L372 48.04 L372.5 48.64 L373 49.33 L373.5 49.85 L374 50.44 L374.5 51.17 L375 51.95 L375.5 52.4 L376 52.87 L376.5 53.61 L377 54.29 L377.5 54.81 L378 55.18 L378.5 55.57 L379 55.71 L379.5 55.48 L380 54.99 L380.5 54.21 L381 53.28 L381.5 52.31 L382 51.33 L382.5 50.51 L383 49.81 L383.5 49.08 L384 48.54 L384.5 48.25 L385 48.19 L385.5 48.5 L386 49.05 L386.5 49.55 L387 50.26 L387.5 51.07 L388 51.98 L388.5 53.41 L389 54.73 L389.5 55.44 L390 55.73 L390.5 55.58 L391 54.9 L391.5 53.92 L392 52.72 L392.5 51.25 L393 49.9 L393.5 49.01 L394 48.48 L394.5 48.18 L395 48.3 L395.5 48.96 L396 50.03 L396.5 51.29 L397 52.7 L397.5 54.4 L398 55.71 L398.5 56.01 L399 55.56 L399.5 54.5 L400 53.09 L400.5 51.81 L401 50.62 L401.5 49.34 L402 48.39 L402.5 48.22 L403 48.57 L403.5 49.29 L404 50.54 L404.5 52.11 L405 53.77 L405.5 55.12 L406 55.71 L406.5 55.56 L407 54.67 L407.5 53.26 L408 51.74 L408.5 50.32 L409 49.18 L409.5 48.49 L410 48.43 L410.5 49.09 L411 50.66 L411.5 52.93 L412 54.94 L412.5 55.85 L413 55.27 L413.5 53.64 L414 51.74 L414.5 49.94 L415 48.6 L415.5 48.19 L416 48.87 L416.5 50.71 L417 53.34 L417.5 55.53 L418 55.76 L418.5 53.66 L419 50.78 L419.5 48.96 L420 48.3 L420.5 48.46 L421 49.83 L421 84.88 L420.5 86.51 L420 86.92 L419.5 86.05 L419 84.02 L418.5 81.32 L418 79.39 L417.5 79.62 L417 81.79 L416.5 84.61 L416 86.63 L415.5 87.25 L415 86.77 L414.5 85.45 L414 83.64 L413.5 81.67 L413 79.98 L412.5 79.42 L412 80.34 L411.5 82.28 L411 84.48 L410.5 86.54 L410 87.68 L409.5 87.3 L409 86.28 L408.5 85.25 L408 83.94 L407.5 82.16 L407 80.49 L406.5 79.44 L406 79.13 L405.5 80.12 L405 81.86 L404.5 83.54 L404 85.13 L403.5 86.39 L403 87.12 L402.5 87.08 L402 86.53 L401.5 85.75 L401 84.63 L400.5 83.51 L400 82.3 L399.5 80.75 L399 79.54 L398.5 79.27 L398 79.75 L397.5 81.11 L397 82.86 L396.5 83.96 L396 84.92 L395.5 86.06 L395 86.8 L394.5 87.01 L394 86.8 L393.5 86.26 L393 85.38 L392.5 84.23 L392 82.95 L391.5 81.48 L391 80.24 L390.5 79.42 L390 79.13 L389.5 79.63 L389 80.54 L388.5 81.46 L388 82.49 L387.5 83.75 L387 84.9 L386.5 85.66 L386 86.21 L385.5 86.91 L385 87.38 L384.5 87.34 L384 87.07 L383.5 86.32 L383 85.38 L382.5 84.64 L382 83.8 L381.5 82.74 L381 81.7 L380.5 80.78 L380 80.01 L379.5 79.49 L379 79.22 L378.5 79.17 L378 79.37 L377.5 79.94 L377 80.66 L376.5 81.45 L376 82.29 L375.5 82.82 L375 83.35 L374.5 84.15 L374 84.91 L373.5 85.43 L373 85.88 L372.5 86.45 L372 86.92 L371.5 87.15 L371 87.27 L370.5 87.26 L370 87.16 L369.5 87.03 L369 86.78 L368.5 86.13 L368 85.39 L367.5 85.03 L367 84.62 L366.5 83.85 L366 83.07 L365.5 82.25 L365 81.46 L364.5 80.99 L364 80.61 L363.5 80.02 L363 79.56 L362.5 79.35 L362 79.28 L361.5 79.23 L361 79.3 L360.5 79.5 L360 79.82 L359.5 80.16 L359 80.57 L358.5 81.23 L358 81.9 L357.5 82.33 L357 82.74 L356.5 83.14 L356 83.49 L355.5 83.71 L355 83.91 L354.5 84.2 L354 84.46 L353.5 84.96 L353 85.45 L352.5 85.57 L352 85.68 L351.5 86.26 L351 86.83 L350.5 86.54 L350 86.24 L349.5 86.45 L349 86.65 L348.5 86.86 L348 87.05 L347.5 87.21 L347 87.36 L346.5 87.38 L346 87.39 L345.5 87.63 L345 87.86 L344.5 87.88 L344 87.9 L343.5 88.03 L343 88.17 L342.5 88.23 L342 88.28 L341.5 88.3 L341 88.31 L340.5 88.32 L340 88.33 L339.5 88.54 L339 88.74 L338.5 88.6 L338 88.46 L337.5 88.72 L337 88.98 L336.5 88.79 L336 88.6 L335.5 88.44 L335 88.28 L334.5 88.35 L334 88.41 L333.5 88.17 L333 87.92 L332.5 87.98 L332 88.03 L331.5 87.84 L331 87.64 L330.5 87.57 L330 87.48 L329.5 87.66 L329 87.83 L328.5 87.31 L328 86.77 L327.5 86.71 L327 86.64 L326.5 86.4 L326 86.15 L325.5 85.77 L325 85.38 L324.5 85.16 L324 84.92 L323.5 84.71 L323 84.47 L322.5 83.97 L322 83.44 L321.5 82.86 L321 82.21 L320.5 81.65 L320 80.99 L319.5 80.03 L319 78.98 L318.5 77.92 L318 76.79 L317.5 75.57 L317 74.3 L316.5 73.28 L316 72.26 L315.5 70.89 L315 69.65 L314.5 69.19 L314 69.81 L313.5 70.79 L313 71.88 L312.5 73.01 L312 74.15 L311.5 75.27 L311 76.37 L310.5 77.35 L310 78.32 L309.5 79.29 L309 80.22 L308.5 81.2 L308 82.14 L307.5 83.1 L307 84.01 L306.5 84.76 L306 85.46 L305.5 86.32 L305 87.12 L304.5 87.6 L304 88.01 L303.5 88.61 L303 89.13 L302.5 89.19 L302 89.16 L301.5 89.46 L301 89.64 L300.5 89.5 L300 89.24 L299.5 88.92 L299 88.47 L298.5 87.74 L298 86.87 L297.5 86.07 L297 85.15 L296.5 83.74 L296 82.21 L295.5 81.14 L295 79.98 L294.5 78.25 L294 76.49 L293.5 74.88 L293 73.36 L292.5 72.18 L292 71.51 L291.5 71.68 L291 72.61 L290.5 73.79 L290 75.17 L289.5 76.71 L289 78.25 L288.5 79.93 L288 81.56 L287.5 82.93 L287 84.2 L286.5 85.23 L286 86.13 L285.5 87.19 L285 88.11 L284.5 88.86 L284 89.45 L283.5 89.48 L283 89.33 L282.5 89.27 L282 89.02 L281.5 88.49 L281 87.78 L280.5 87.15 L280 86.33 L279.5 85.05 L279 83.62 L278.5 82.03 L278 80.32 L277.5 78.63 L277 76.89 L276.5 75.38 L276 73.96 L275.5 72.56 L275 71.82 L274.5 72.14 L274 73.29 L273.5 74.76 L273 76.37 L272.5 77.97 L272 79.53 L271.5 81.17 L271 82.72 L270.5 84.04 L270 85.23 L269.5 86.26 L269 87.13 L268.5 87.97 L268 88.64 L267.5 89.13 L267 89.44 L266.5 89.37 L266 89.13 L265.5 89.1 L265 88.89 L264.5 87.86 L264 86.64 L263.5 85.54 L263 84.28 L262.5 82.9 L262 81.38 L261.5 79.89 L261 78.34 L260.5 76.57 L260 74.87 L259.5 73.45 L259 72.53 L258.5 72.48 L258 73.28 L257.5 74.94 L257 76.86 L256.5 78.45 L256 80.04 L255.5 81.6 L255 83.07 L254.5 84.62 L254 86.03 L253.5 86.9 L253 87.6 L252.5 88.45 L252 89.12 L251.5 89.53 L251 89.73 L250.5 89.69 L250 89.45 L249.5 89.17 L249 88.7 L248.5 88.1 L248 87.33 L247.5 86.12 L247 84.76 L246.5 83.54 L246 82.2 L245.5 80.77 L245 79.28 L244.5 77.84 L244 76.45 L243.5 74.94 L243 73.71 L242.5 73.07 L242 73.09 L241.5 73.88 L241 75.09 L240.5 76.32 L240 77.65 L239.5 79.07 L239 80.47 L238.5 81.86 L238 83.18 L237.5 84.55 L237 85.81 L236.5 87.11 L236 88.28 L235.5 88.69 L235 88.96 L234.5 89.49 L234 89.89 L233.5 90.32 L233 90.61 L232.5 90.47 L232 90.2 L231.5 90.13 L231 89.93 L230.5 89.35 L230 88.65 L229.5 87.91 L229 87.05 L228.5 86.05 L228 84.96 L227.5 83.8 L227 82.56 L226.5 81.51 L226 80.42 L225.5 79.31 L225 78.19 L224.5 76.66 L224 75.21 L223.5 73.94 L223 72.9 L222.5 72.45 L222 72.46 L221.5 73.14 L221 74.18 L220.5 75.02 L220 75.99 L219.5 77.3 L219 78.64 L218.5 79.76 L218 80.86 L217.5 82.12 L217 83.32 L216.5 84.23 L216 85.06 L215.5 86.36 L215 87.58 L214.5 88.16 L214 88.66 L213.5 89.58 L213 90.42 L212.5 90.66 L212 90.83 L211.5 91.25 L211 91.61 L210.5 91.78 L210 91.88 L209.5 91.92 L209 91.91 L208.5 92.05 L208 92.13 L207.5 92.07 L207 91.98 L206.5 91.97 L206 91.93 L205.5 91.71 L205 91.47 L204.5 91.56 L204 91.62 L203.5 91.37 L203 91.09 L202.5 90.69 L202 90.12 L201.5 89.38 L201 88.52 L200.5 87.64 L200 86.71 L199.5 85.76 L199 84.8 L198.5 83.97 L198 83.26 L197.5 82.69 L197 82.31 L196.5 82.07 L196 82.01 L195.5 82.24 L195 82.56 L194.5 82.6 L194 82.6 L193.5 82.87 L193 83.13 L192.5 83.08 L192 83.02 L191.5 83.33 L191 83.63 L190.5 83.53 L190 83.42 L189.5 83.44 L189 83.44 L188.5 83.51 L188 83.57 L187.5 83.51 L187 83.44 L186.5 83.34 L186 83.22 L185.5 83.24 L185 83.25 L184.5 83.13 L184 83 L183.5 82.94 L183 82.89 L182.5 82.96 L182 83.04 L181.5 83.39 L181 83.75 L180.5 83.24 L180 82.74 L179.5 83 L179 83.28 L178.5 83.51 L178 83.75 L177.5 83.74 L177 83.75 L176.5 83.51 L176 83.29 L175.5 83.31 L175 83.34 L174.5 83.57 L174 83.81 L173.5 83.91 L173 84.02 L172.5 84.24 L172 84.46 L171.5 84.45 L171 84.43 L170.5 84.57 L170 84.7 L169.5 85.01 L169 85.3 L168.5 85.27 L168 85.23 L167.5 85.91 L167 86.58 L166.5 86.44 L166 86.29 L165.5 86.15 L165 86 L164.5 86.09 L164 86.17 L163.5 86.2 L163 86.22 L162.5 86.28 L162 86.32 L161.5 86.36 L161 86.39 L160.5 86.63 L160 86.87 L159.5 87.24 L159 87.62 L158.5 87.38 L158 87.14 L157.5 87.21 L157 87.28 L156.5 86.9 L156 86.53 L155.5 86.82 L155 87.13 L154.5 87.14 L154 87.17 L153.5 87.38 L153 87.6 L152.5 87.63 L152 87.66 L151.5 87.88 L151 88.1 L150.5 88.26 L150 88.43 L149.5 88.8 L149 89.19 L148.5 88.95 L148 88.7 L147.5 88.93 L147 89.15 L146.5 89.36 L146 89.57 L145.5 90.2 L145 90.83 L144.5 90.5 L144 90.17 L143.5 90.58 L143 90.97 L142.5 90.95 L142 90.91 L141.5 90.76 L141 90.59 L140.5 90.81 L140 91.01 L139.5 91.05 L139 91.07 L138.5 91.01 L138 90.94 L137.5 90.97 L137 90.99 L136.5 91.02 L136 91.05 L135.5 90.81 L135 90.57 L134.5 90.69 L134 90.82 L133.5 90.87 L133 90.92 L132.5 90.92 L132 90.92 L131.5 91.37 L131 91.83 L130.5 91.05 L130 90.28 L129.5 90.77 L129 91.28 L128.5 90.98 L128 90.69 L127.5 91.01 L127 91.34 L126.5 91.35 L126 91.37 L125.5 91.76 L125 92.15 L124.5 92.15 L124 92.14 L123.5 92.96 L123 93.78 L122.5 93.88 L122 93.96 L121.5 93.49 L121 92.99 L120.5 93.4 L120 93.78 L119.5 93.63 L119 93.43 L118.5 93.55 L118 93.64 L117.5 93.73 L117 93.8 L116.5 93.39 L116 92.99 L115.5 92.95 L115 92.93 L114.5 93.53 L114 94.15 L113.5 93.74 L113 93.36 L112.5 93.27 L112 93.22 L111.5 93.49 L111 93.79 L110.5 93.98 L110 94.18 L109.5 94.82 L109 95.45 L108.5 95.35 L108 95.23 L107.5 95.53 L107 95.82 L106.5 96.13 L106 96.42 L105.5 96.21 L105 95.98 L104.5 96.44 L104 96.89 L103.5 96.49 L103 96.09 L102.5 96.39 L102 96.7 L101.5 96.61 L101 96.53 L100.5 96.11 L100 95.7 L99.5 95.78 L99 95.87 L98.5 96.2 L98 96.55 L97.5 96.68 L97 96.82 L96.5 96.79 L96 96.75 L95.5 97.67 L95 98.57 L94.5 97.79 L94 97 L93.5 97.77 L93 98.55 L92.5 97.95 L92 97.35 L91.5 97.33 L91 97.31 L90.5 97.41 L90 97.5 L89.5 97.76 L89 98.02 L88.5 98.08 L88 98.15Z" fill="#00a558" fill-opacity="0.7"/>
</g>
<g clip-path="url(#cb)">
<line x1="194.6" y1="124.5" x2="194.6" y2="239.3" stroke="#000" stroke-width="1.6" stroke-dasharray="1.6 4.4"/>
<line x1="329.4" y1="124.5" x2="329.4" y2="239.3" stroke="#000" stroke-width="1.6" stroke-dasharray="1.6 4.4"/>
<path d="M88 161.94 L88.5 161.71 L89 161.47 L89.5 161.26 L90 161.05 L90.5 161.13 L91 161.2 L91.5 161.61 L92 162.01 L92.5 161.47 L93 160.92 L93.5 161.21 L94 161.49 L94.5 161.42 L95 161.36 L95.5 162.05 L96 162.74 L96.5 162.7 L97 162.66 L97.5 162.03 L98 161.4 L98.5 161.68 L99 161.96 L99.5 162.36 L100 162.77 L100.5 162.73 L101 162.69 L101.5 163.04 L102 163.39 L102.5 163.4 L103 163.41 L103.5 162.89 L104 162.38 L104.5 163.01 L105 163.63 L105.5 163.35 L106 163.08 L106.5 163.07 L107 163.06 L107.5 163.52 L108 163.98 L108.5 164.05 L109 164.11 L109.5 163.74 L110 163.38 L110.5 163.59 L111 163.8 L111.5 164.04 L112 164.28 L112.5 164.32 L113 164.36 L113.5 164.39 L114 164.42 L114.5 164.49 L115 164.55 L115.5 164.63 L116 164.71 L116.5 164.3 L117 163.9 L117.5 164.52 L118 165.13 L118.5 165.15 L119 165.17 L119.5 165.17 L120 165.17 L120.5 164.64 L121 164.12 L121.5 164.87 L122 165.61 L122.5 165.5 L123 165.38 L123.5 165.14 L124 164.89 L124.5 164.73 L125 164.57 L125.5 164.48 L126 164.39 L126.5 164.99 L127 165.58 L127.5 165.7 L128 165.82 L128.5 165.78 L129 165.74 L129.5 165.89 L130 166.03 L130.5 166.38 L131 166.73 L131.5 166.44 L132 166.14 L132.5 166.39 L133 166.63 L133.5 166.66 L134 166.68 L134.5 166.13 L135 165.58 L135.5 165.54 L136 165.5 L136.5 166.27 L137 167.04 L137.5 166.73 L138 166.42 L138.5 166.78 L139 167.14 L139.5 167.01 L140 166.89 L140.5 166.92 L141 166.94 L141.5 167.02 L142 167.09 L142.5 167.64 L143 168.19 L143.5 167.88 L144 167.56 L144.5 167.95 L145 168.33 L145.5 167.76 L146 167.19 L146.5 167.41 L147 167.63 L147.5 168.19 L148 168.74 L148.5 168.53 L149 168.32 L149.5 168.63 L150 168.94 L150.5 169.01 L151 169.09 L151.5 168.61 L152 168.13 L152.5 168.38 L153 168.63 L153.5 169.06 L154 169.48 L154.5 169.21 L155 168.93 L155.5 169.12 L156 169.3 L156.5 169.49 L157 169.67 L157.5 169.57 L158 169.47 L158.5 169.44 L159 169.41 L159.5 169.74 L160 170.07 L160.5 169.84 L161 169.62 L161.5 170.01 L162 170.39 L162.5 170.05 L163 169.7 L163.5 170 L164 170.3 L164.5 170.5 L165 170.69 L165.5 170.58 L166 170.47 L166.5 170.46 L167 170.46 L167.5 170.5 L168 170.54 L168.5 170.55 L169 170.55 L169.5 170.39 L170 170.23 L170.5 170.76 L171 171.29 L171.5 171.29 L172 171.29 L172.5 171.36 L173 171.42 L173.5 171.57 L174 171.72 L174.5 171.67 L175 171.62 L175.5 171.8 L176 171.98 L176.5 172.03 L177 172.09 L177.5 172.08 L178 172.06 L178.5 172.12 L179 172.19 L179.5 172.28 L180 172.38 L180.5 172.14 L181 171.91 L181.5 172.25 L182 172.59 L182.5 172.43 L183 172.28 L183.5 172.62 L184 172.95 L184.5 172.83 L185 172.72 L185.5 172.95 L186 173.19 L186.5 173.18 L187 173.16 L187.5 173.02 L188 172.88 L188.5 173.06 L189 173.24 L189.5 173.27 L190 173.31 L190.5 173.4 L191 173.5 L191.5 173.37 L192 173.24 L192.5 173.47 L193 173.69 L193.5 173.85 L194 174 L194.5 173.85 L195 173.73 L195.5 173.83 L196 173.92 L196.5 174.04 L197 174.19 L197.5 174.52 L198 174.88 L198.5 174.73 L199 174.62 L199.5 174.93 L200 175.26 L200.5 175.77 L201 176.29 L201.5 176.72 L202 177.17 L202.5 177.66 L203 178.16 L203.5 178.49 L204 178.81 L204.5 179.15 L205 179.47 L205.5 179.49 L206 179.5 L206.5 179.86 L207 180.2 L207.5 180.41 L208 180.59 L208.5 180.74 L209 180.86 L209.5 180.71 L210 180.52 L210.5 180.66 L211 180.78 L211.5 180.29 L212 179.77 L212.5 179.92 L213 180.05 L213.5 179.96 L214 179.85 L214.5 179.35 L215 178.85 L215.5 178.74 L216 178.63 L216.5 178.39 L217 178.16 L217.5 178.01 L218 177.87 L218.5 177.76 L219 177.66 L219.5 177.59 L220 177.54 L220.5 177.26 L221 177.01 L221.5 177.08 L222 177.18 L222.5 177.18 L223 177.22 L223.5 177.31 L224 177.43 L224.5 177.53 L225 177.65 L225.5 177.87 L226 178.1 L226.5 178.35 L227 178.62 L227.5 178.82 L228 179.03 L228.5 179.41 L229 179.78 L229.5 180.06 L230 180.32 L230.5 180.36 L231 180.36 L231.5 180.21 L232 180.02 L232.5 180.38 L233 180.7 L233.5 180.8 L234 180.87 L234.5 180.73 L235 180.56 L235.5 180.27 L236 179.95 L236.5 179.74 L237 179.52 L237.5 179.28 L238 179.06 L238.5 178.97 L239 178.89 L239.5 178.73 L240 178.59 L240.5 178.43 L241 178.3 L241.5 178.31 L242 178.37 L242.5 178.41 L243 178.48 L243.5 178.38 L244 178.31 L244.5 178.38 L245 178.47 L245.5 178.87 L246 179.28 L246.5 179.28 L247 179.29 L247.5 179.7 L248 180.09 L248.5 180.16 L249 180.21 L249.5 180.56 L250 180.87 L250.5 180.83 L251 180.74 L251.5 180.34 L252 179.9 L252.5 180.02 L253 180.11 L253.5 179.92 L254 179.71 L254.5 179.4 L255 179.09 L255.5 179.11 L256 179.14 L256.5 178.92 L257 178.72 L257.5 178.53 L258 178.37 L258.5 178.45 L259 178.57 L259.5 178.66 L260 178.79 L260.5 178.83 L261 178.9 L261.5 179.11 L262 179.34 L262.5 179.57 L263 179.8 L263.5 180.1 L264 180.39 L264.5 180.57 L265 180.72 L265.5 180.78 L266 180.81 L266.5 180.66 L267 180.48 L267.5 180.32 L268 180.12 L268.5 180.14 L269 180.13 L269.5 180.03 L270 179.91 L270.5 179.78 L271 179.65 L271.5 179.5 L272 179.37 L272.5 179.13 L273 178.92 L273.5 178.83 L274 178.78 L274.5 178.51 L275 178.28 L275.5 178.47 L276 178.7 L276.5 178.41 L277 178.15 L277.5 178.5 L278 178.87 L278.5 179.22 L279 179.58 L279.5 179.9 L280 180.21 L280.5 180.44 L281 180.65 L281.5 180.56 L282 180.43 L282.5 180.52 L283 180.58 L283.5 180.74 L284 180.86 L284.5 180.54 L285 180.18 L285.5 180.26 L286 180.33 L286.5 180.11 L287 179.89 L287.5 179.76 L288 179.64 L288.5 179.41 L289 179.21 L289.5 178.88 L290 178.57 L290.5 178.61 L291 178.67 L291.5 178.64 L292 178.65 L292.5 178.61 L293 178.6 L293.5 178.78 L294 178.99 L294.5 179.22 L295 179.47 L295.5 179.18 L296 178.91 L296.5 179.54 L297 180.18 L297.5 180.15 L298 180.11 L298.5 180.36 L299 180.59 L299.5 180.49 L300 180.37 L300.5 180.49 L301 180.59 L301.5 180.61 L302 180.6 L302.5 180.49 L303 180.37 L303.5 180.54 L304 180.7 L304.5 180.35 L305 179.99 L305.5 180.1 L306 180.21 L306.5 180 L307 179.78 L307.5 179.82 L308 179.85 L308.5 179.54 L309 179.23 L309.5 179.18 L310 179.14 L310.5 179.23 L311 179.32 L311.5 179.25 L312 179.18 L312.5 179.12 L313 179.08 L313.5 178.97 L314 178.87 L314.5 178.62 L315 178.39 L315.5 178.75 L316 179.14 L316.5 178.98 L317 178.84 L317.5 179.03 L318 179.23 L318.5 179.28 L319 179.33 L319.5 179.44 L320 179.54 L320.5 179.72 L321 179.89 L321.5 179.87 L322 179.83 L322.5 180.01 L323 180.19 L323.5 179.95 L324 179.7 L324.5 179.81 L325 179.9 L325.5 180.01 L326 180.12 L326.5 180.17 L327 180.22 L327.5 180.23 L328 180.22 L328.5 180.04 L329 179.86 L329.5 179.96 L330 180.13 L330.5 180.32 L331 180.51 L331.5 180.22 L332 179.94 L332.5 180.3 L333 180.66 L333.5 180.82 L334 180.97 L334.5 181.01 L335 181.04 L335.5 181.2 L336 181.36 L336.5 181.38 L337 181.4 L337.5 181.65 L338 181.91 L338.5 182.01 L339 182.11 L339.5 181.9 L340 181.69 L340.5 182.13 L341 182.57 L341.5 182.67 L342 182.77 L342.5 182.86 L343 182.95 L343.5 182.85 L344 182.76 L344.5 183.11 L345 183.46 L345.5 183.64 L346 183.81 L346.5 183.92 L347 184.02 L347.5 183.95 L348 183.88 L348.5 184.09 L349 184.29 L349.5 184.31 L350 184.32 L350.5 184.62 L351 184.92 L351.5 184.84 L352 184.77 L352.5 185 L353 185.24 L353.5 185.34 L354 185.45 L354.5 185.43 L355 185.4 L355.5 185.61 L356 185.81 L356.5 185.91 L357 186.02 L357.5 186.13 L358 186.23 L358.5 186.18 L359 186.13 L359.5 186.02 L360 185.9 L360.5 186.24 L361 186.56 L361.5 186.6 L362 186.64 L362.5 186.62 L363 186.59 L363.5 186.6 L364 186.59 L364.5 186.52 L365 186.42 L365.5 186.4 L366 186.37 L366.5 186.11 L367 185.84 L367.5 185.81 L368 185.77 L368.5 185.55 L369 185.34 L369.5 185.14 L370 184.97 L370.5 184.99 L371 185.04 L371.5 184.74 L372 184.47 L372.5 184.74 L373 185.04 L373.5 185.14 L374 185.25 L374.5 185.54 L375 185.85 L375.5 185.9 L376 185.96 L376.5 186.27 L377 186.57 L377.5 186.62 L378 186.63 L378.5 186.69 L379 186.69 L379.5 186.73 L380 186.69 L380.5 186.32 L381 185.9 L381.5 185.73 L382 185.56 L382.5 185.34 L383 185.16 L383.5 184.81 L384 184.52 L384.5 184.48 L385 184.51 L385.5 184.63 L386 184.82 L386.5 184.73 L387 184.69 L387.5 185.3 L388 185.93 L388.5 186.24 L389 186.5 L389.5 186.71 L390 186.8 L390.5 186.83 L391 186.71 L391.5 186.32 L392 185.85 L392.5 185.54 L393 185.27 L393.5 184.65 L394 184.14 L394.5 184.4 L395 184.79 L395.5 184.77 L396 184.87 L396.5 185.47 L397 186.11 L397.5 186.46 L398 186.69 L398.5 186.64 L399 186.4 L399.5 186.36 L400 186.22 L400.5 185.82 L401 185.44 L401.5 185.08 L402 184.82 L402.5 184.38 L403 184.1 L403.5 184.54 L404 185.13 L404.5 185.7 L405 186.28 L405.5 186.67 L406 186.84 L406.5 186.8 L407 186.55 L407.5 186.16 L408 185.72 L408.5 185.28 L409 184.9 L409.5 184.54 L410 184.37 L410.5 184.67 L411 185.23 L411.5 186 L412 186.68 L412.5 186.92 L413 186.76 L413.5 186.27 L414 185.69 L414.5 185.15 L415 184.75 L415.5 184.55 L416 184.69 L416.5 185.36 L417 186.26 L417.5 186.67 L418 186.54 L418.5 186.05 L419 185.34 L419.5 184.64 L420 184.28 L420.5 184.51 L421 185.11 L421 197.33 L420.5 197.86 L420 198.04 L419.5 197.65 L419 196.92 L418.5 196.45 L418 196.22 L417.5 196.11 L417 196.55 L416.5 197.33 L416 197.9 L415.5 198.18 L415 198.14 L414.5 197.61 L414 196.95 L413.5 196.42 L413 195.98 L412.5 195.83 L412 196.09 L411.5 196.68 L411 197.35 L410.5 197.73 L410 197.84 L409.5 197.85 L409 197.67 L408.5 197.34 L408 196.92 L407.5 196.57 L407 196.26 L406.5 196.05 L406 196.04 L405.5 196.03 L405 196.22 L404.5 196.82 L404 197.4 L403.5 198.02 L403 198.48 L402.5 198.18 L402 197.73 L401.5 197.95 L401 198.08 L400.5 197.24 L400 196.39 L399.5 196.03 L399 195.79 L398.5 195.87 L398 196.15 L397.5 196.23 L397 196.42 L396.5 196.94 L396 197.41 L395.5 197.87 L395 198.22 L394.5 198.36 L394 198.38 L393.5 197.96 L393 197.43 L392.5 197.12 L392 196.77 L391.5 196.27 L391 195.84 L390.5 195.84 L390 195.99 L389.5 196.01 L389 196.14 L388.5 196.62 L388 197.14 L387.5 197.3 L387 197.44 L386.5 197.55 L386 197.61 L385.5 197.8 L385 197.91 L384.5 197.99 L384 198 L383.5 197.82 L383 197.6 L382.5 197.26 L382 196.89 L381.5 196.71 L381 196.54 L380.5 196.33 L380 196.16 L379.5 196.06 L379 196.04 L378.5 196.04 L378 196.11 L377.5 196.01 L377 195.94 L376.5 196.4 L376 196.87 L375.5 196.89 L375 196.9 L374.5 197.13 L374 197.34 L373.5 197.61 L373 197.85 L372.5 197.84 L372 197.8 L371.5 197.92 L371 198.01 L370.5 197.98 L370 197.91 L369.5 197.66 L369 197.39 L368.5 197.28 L368 197.17 L367.5 197.01 L367 196.87 L366.5 196.66 L366 196.47 L365.5 196.19 L365 195.93 L364.5 195.86 L364 195.81 L363.5 195.81 L363 195.83 L362.5 195.98 L362 196.14 L361.5 195.98 L361 195.82 L360.5 195.93 L360 196.03 L359.5 196.09 L359 196.15 L358.5 196.23 L358 196.32 L357.5 196.52 L357 196.72 L356.5 196.87 L356 197.01 L355.5 196.94 L355 196.86 L354.5 197.08 L354 197.3 L353.5 197.29 L353 197.29 L352.5 197.4 L352 197.51 L351.5 197.58 L351 197.64 L350.5 198.08 L350 198.52 L349.5 198.56 L349 198.61 L348.5 198.55 L348 198.5 L347.5 198.65 L347 198.8 L346.5 198.86 L346 198.91 L345.5 199.07 L345 199.25 L344.5 199.31 L344 199.37 L343.5 199.45 L343 199.53 L342.5 199.65 L342 199.78 L341.5 200.12 L341 200.45 L340.5 200.39 L340 200.32 L339.5 200.57 L339 200.82 L338.5 200.96 L338 201.11 L337.5 201.16 L337 201.22 L336.5 201.17 L336 201.12 L335.5 201.27 L335 201.41 L334.5 201.77 L334 202.13 L333.5 202.09 L333 202.05 L332.5 202.09 L332 202.14 L331.5 202.27 L331 202.39 L330.5 202.69 L330 202.97 L329.5 202.67 L329 202.31 L328.5 202.52 L328 202.74 L327.5 202.52 L327 202.31 L326.5 202.3 L326 202.3 L325.5 202.28 L325 202.26 L324.5 202.33 L324 202.41 L323.5 202.79 L323 203.17 L322.5 202.86 L322 202.55 L321.5 202.68 L321 202.82 L320.5 203.05 L320 203.29 L319.5 203.5 L319 203.71 L318.5 203.56 L318 203.41 L317.5 203.4 L317 203.39 L316.5 203.53 L316 203.66 L315.5 203.6 L315 203.54 L314.5 203.62 L314 203.7 L313.5 203.75 L313 203.8 L312.5 203.66 L312 203.52 L311.5 203.45 L311 203.37 L310.5 203.28 L310 203.17 L309.5 203.08 L309 202.98 L308.5 203.05 L308 203.11 L307.5 202.81 L307 202.5 L306.5 202.4 L306 202.3 L305.5 202.19 L305 202.08 L304.5 202.01 L304 201.95 L303.5 201.97 L303 202 L302.5 201.89 L302 201.8 L301.5 201.94 L301 202.1 L300.5 202.05 L300 202.03 L299.5 201.97 L299 201.94 L298.5 202.27 L298 202.62 L297.5 202.75 L297 202.89 L296.5 202.9 L296 202.92 L295.5 203.11 L295 203.28 L294.5 203.44 L294 203.58 L293.5 203.98 L293 204.37 L292.5 204.06 L292 203.73 L291.5 203.68 L291 203.61 L290.5 203.73 L290 203.83 L289.5 203.6 L289 203.34 L288.5 203.24 L288 203.13 L287.5 202.97 L287 202.81 L286.5 202.82 L286 202.83 L285.5 202.47 L285 202.13 L284.5 201.95 L284 201.8 L283.5 201.86 L283 201.95 L282.5 201.96 L282 202.01 L281.5 201.98 L281 201.98 L280.5 202.49 L280 203.01 L279.5 202.89 L279 202.78 L278.5 203.05 L278 203.32 L277.5 203.6 L277 203.85 L276.5 203.81 L276 203.74 L275.5 204.1 L275 204.43 L274.5 204.11 L274 203.76 L273.5 203.65 L273 203.52 L272.5 203.54 L272 203.54 L271.5 203.21 L271 202.86 L270.5 202.95 L270 203.04 L269.5 202.63 L269 202.23 L268.5 202.16 L268 202.11 L267.5 201.88 L267 201.69 L266.5 201.68 L266 201.71 L265.5 201.82 L265 201.96 L264.5 202.14 L264 202.34 L263.5 202.58 L263 202.83 L262.5 203.07 L262 203.31 L261.5 203.57 L261 203.81 L260.5 203.76 L260 203.67 L259.5 203.95 L259 204.19 L258.5 204.06 L258 203.89 L257.5 203.95 L257 203.97 L256.5 203.84 L256 203.69 L255.5 203.36 L255 203.01 L254.5 203.02 L254 203.02 L253.5 202.72 L253 202.43 L252.5 202.26 L252 202.13 L251.5 201.86 L251 201.63 L250.5 201.78 L250 201.98 L249.5 201.97 L249 201.99 L248.5 202.31 L248 202.65 L247.5 202.9 L247 203.16 L246.5 203.27 L246 203.37 L245.5 203.5 L245 203.61 L244.5 203.86 L244 204.07 L243.5 204.29 L243 204.48 L242.5 204.36 L242 204.2 L241.5 204.19 L241 204.14 L240.5 204.09 L240 204 L239.5 203.87 L239 203.72 L238.5 203.82 L238 203.9 L237.5 203.44 L237 202.97 L236.5 202.82 L236 202.69 L235.5 202.33 L235 201.99 L234.5 201.87 L234 201.78 L233.5 201.78 L233 201.82 L232.5 201.82 L232 201.86 L231.5 202.06 L231 202.3 L230.5 202.46 L230 202.64 L229.5 202.88 L229 203.14 L228.5 203.32 L228 203.51 L227.5 203.79 L227 204.07 L226.5 204.24 L226 204.4 L225.5 204.94 L225 205.47 L224.5 205.27 L224 205.04 L223.5 205.19 L223 205.32 L222.5 205.65 L222 205.96 L221.5 205.67 L221 205.35 L220.5 205.34 L220 205.31 L219.5 205.24 L219 205.15 L218.5 204.91 L218 204.66 L217.5 204.5 L217 204.33 L216.5 204.01 L216 203.69 L215.5 203.63 L215 203.58 L214.5 203.15 L214 202.73 L213.5 202.55 L213 202.38 L212.5 202.34 L212 202.31 L211.5 202.36 L211 202.44 L210.5 202.31 L210 202.2 L209.5 201.92 L209 201.69 L208.5 201.87 L208 202.08 L207.5 202.29 L207 202.53 L206.5 202.75 L206 203 L205.5 203.17 L205 203.36 L204.5 203.93 L204 204.52 L203.5 204.51 L203 204.51 L202.5 204.85 L202 205.2 L201.5 205.68 L201 206.16 L200.5 206.52 L200 206.87 L199.5 207.19 L199 207.49 L198.5 207.56 L198 207.6 L197.5 207.87 L197 208.12 L196.5 208.32 L196 208.5 L195.5 208.81 L195 209.13 L194.5 209.02 L194 208.87 L193.5 208.91 L193 208.94 L192.5 209 L192 209.06 L191.5 209.04 L191 209.02 L190.5 209.17 L190 209.33 L189.5 209.27 L189 209.21 L188.5 209.36 L188 209.51 L187.5 209.47 L187 209.42 L186.5 209.72 L186 210.02 L185.5 209.9 L185 209.78 L184.5 209.93 L184 210.08 L183.5 209.92 L183 209.75 L182.5 209.85 L182 209.94 L181.5 210.1 L181 210.26 L180.5 210.24 L180 210.21 L179.5 210.43 L179 210.65 L178.5 210.49 L178 210.33 L177.5 210.59 L177 210.85 L176.5 210.85 L176 210.85 L175.5 210.84 L175 210.83 L174.5 211.11 L174 211.38 L173.5 211.2 L173 211.02 L172.5 211.28 L172 211.55 L171.5 211.43 L171 211.32 L170.5 211.7 L170 212.09 L169.5 211.91 L169 211.71 L168.5 211.74 L168 211.76 L167.5 211.67 L167 211.59 L166.5 212.22 L166 212.85 L165.5 212.5 L165 212.14 L164.5 212.28 L164 212.43 L163.5 212.6 L163 212.78 L162.5 212.84 L162 212.89 L161.5 212.62 L161 212.35 L160.5 212.6 L160 212.86 L159.5 213 L159 213.14 L158.5 213.11 L158 213.08 L157.5 213.22 L157 213.36 L156.5 213.44 L156 213.52 L155.5 213.74 L155 213.97 L154.5 213.73 L154 213.5 L153.5 213.86 L153 214.22 L152.5 214.13 L152 214.03 L151.5 214.04 L151 214.06 L150.5 213.89 L150 213.73 L149.5 213.92 L149 214.11 L148.5 214.21 L148 214.31 L147.5 214.8 L147 215.3 L146.5 214.86 L146 214.42 L145.5 214.58 L145 214.74 L144.5 214.76 L144 214.79 L143.5 214.67 L143 214.55 L142.5 214.75 L142 214.96 L141.5 215.39 L141 215.82 L140.5 215.57 L140 215.32 L139.5 215.31 L139 215.3 L138.5 215.36 L138 215.42 L137.5 216.05 L137 216.67 L136.5 215.97 L136 215.27 L135.5 215.55 L135 215.83 L134.5 215.85 L134 215.87 L133.5 215.74 L133 215.61 L132.5 216.39 L132 217.18 L131.5 216.57 L131 215.96 L130.5 216.04 L130 216.12 L129.5 216.29 L129 216.45 L128.5 216.74 L128 217.04 L127.5 216.9 L127 216.77 L126.5 216.66 L126 216.54 L125.5 216.82 L125 217.11 L124.5 216.86 L124 216.62 L123.5 216.7 L123 216.79 L122.5 217.31 L122 217.84 L121.5 217.41 L121 216.96 L120.5 217.45 L120 217.94 L119.5 217.99 L119 218.04 L118.5 217.69 L118 217.33 L117.5 217.74 L117 218.15 L116.5 217.93 L116 217.72 L115.5 218.04 L115 218.37 L114.5 218.15 L114 217.94 L113.5 218.17 L113 218.4 L112.5 218.35 L112 218.29 L111.5 218.64 L111 219 L110.5 219.38 L110 219.76 L109.5 219.18 L109 218.6 L108.5 218.85 L108 219.1 L107.5 219.1 L107 219.11 L106.5 219.25 L106 219.39 L105.5 219.27 L105 219.15 L104.5 219.22 L104 219.29 L103.5 219.11 L103 218.92 L102.5 219.4 L102 219.87 L101.5 220.08 L101 220.3 L100.5 220.27 L100 220.23 L99.5 219.98 L99 219.72 L98.5 219.88 L98 220.04 L97.5 220.43 L97 220.82 L96.5 220.48 L96 220.13 L95.5 220.9 L95 221.68 L94.5 220.85 L94 220.01 L93.5 220.25 L93 220.49 L92.5 220.47 L92 220.44 L91.5 220.53 L91 220.63 L90.5 221.08 L90 221.54 L89.5 221.79 L89 222.05 L88.5 221.99 L88 221.93Z" fill="#999999"/>
<path d="M88 189.55 L88.5 189.34 L89 189.15 L89.5 189.21 L90 189.34 L90.5 188.77 L91 188.29 L91.5 188.6 L92 188.98 L92.5 189.22 L93 189.5 L93.5 189.55 L94 189.07 L94.5 189.28 L95 189.53 L95.5 189.07 L96 188.67 L96.5 188.83 L97 189.04 L97.5 189.26 L98 189.52 L98.5 189.77 L99 190.05 L99.5 190.17 L100 189.99 L100.5 189.4 L101 188.84 L101.5 188.83 L102 188.86 L102.5 188.65 L103 188.51 L103.5 188.6 L104 188.74 L104.5 188.83 L105 188.96 L105.5 189.49 L106 190.04 L106.5 190 L107 189.66 L107.5 188.94 L108 188.24 L108.5 188.54 L109 188.89 L109.5 189.03 L110 189.23 L110.5 189.21 L111 189.24 L111.5 188.96 L112 188.71 L112.5 189.51 L113 190.32 L113.5 189.91 L114 189.5 L114.5 189.48 L115 189.48 L115.5 189.09 L116 188.76 L116.5 188.81 L117 188.91 L117.5 189.1 L118 189.33 L118.5 189.46 L119 189.62 L119.5 189.89 L120 190.16 L120.5 189.61 L121 189.07 L121.5 189.08 L122 189.11 L122.5 188.97 L123 188.85 L123.5 188.83 L124 188.84 L124.5 188.84 L125 188.87 L125.5 188.68 L126 188.53 L126.5 189.03 L127 189.55 L127.5 189.27 L128 189.01 L128.5 189.47 L129 189.92 L129.5 189.87 L130 189.81 L130.5 189.32 L131 188.83 L131.5 188.9 L132 188.99 L132.5 188.8 L133 188.64 L133.5 188.32 L134 188.03 L134.5 188.19 L135 188.38 L135.5 188.57 L136 188.8 L136.5 188.8 L137 188.84 L137.5 188.9 L138 188.98 L138.5 189.06 L139 189.17 L139.5 189.65 L140 190.14 L140.5 189.99 L141 189.37 L141.5 189.52 L142 189.67 L142.5 189.49 L143 189.32 L143.5 189 L144 188.72 L144.5 188.52 L145 188.35 L145.5 188.2 L146 188.09 L146.5 187.99 L147 187.91 L147.5 188.1 L148 188.31 L148.5 188.38 L149 188.48 L149.5 188.86 L150 189.26 L150.5 189.52 L151 189.79 L151.5 189.85 L152 189.91 L152.5 189.76 L153 189.6 L153.5 189.29 L154 188.98 L154.5 188.98 L155 188.99 L155.5 188.98 L156 188.98 L156.5 188.7 L157 188.45 L157.5 188.5 L158 188.57 L158.5 188.17 L159 187.77 L159.5 187.99 L160 188.21 L160.5 188.16 L161 188.11 L161.5 187.92 L162 187.73 L162.5 187.52 L163 187.32 L163.5 187.55 L164 187.78 L164.5 187.48 L165 187.19 L165.5 187.57 L166 187.95 L166.5 187.95 L167 187.95 L167.5 187.63 L168 187.32 L168.5 187.61 L169 187.91 L169.5 187.98 L170 188.05 L170.5 187.95 L171 187.86 L171.5 187.69 L172 187.53 L172.5 187.8 L173 188.07 L173.5 187.91 L174 187.74 L174.5 187.83 L175 187.92 L175.5 187.95 L176 187.97 L176.5 187.99 L177 188.01 L177.5 188 L178 187.99 L178.5 187.81 L179 187.59 L179.5 187.45 L180 187.29 L180.5 187.13 L181 186.96 L181.5 186.85 L182 186.73 L182.5 186.61 L183 186.5 L183.5 186.5 L184 186.48 L184.5 186.22 L185 185.96 L185.5 185.87 L186 185.78 L186.5 185.57 L187 185.35 L187.5 185.12 L188 184.88 L188.5 184.74 L189 184.58 L189.5 184.24 L190 183.9 L190.5 183.71 L191 183.52 L191.5 183.31 L192 183.11 L192.5 182.67 L193 182.25 L193.5 182.12 L194 182.01 L194.5 181.88 L195 181.76 L195.5 181.53 L196 181.3 L196.5 181.01 L197 180.72 L197.5 180.6 L198 180.48 L198.5 180.02 L199 179.58 L199.5 179.77 L200 179.96 L200.5 179.63 L201 179.31 L201.5 179.23 L202 179.16 L202.5 178.88 L203 178.6 L203.5 178.75 L204 178.9 L204.5 178.86 L205 178.82 L205.5 178.71 L206 178.61 L206.5 178.53 L207 178.47 L207.5 178.4 L208 178.34 L208.5 178.27 L209 178.2 L209.5 178.26 L210 178.33 L210.5 178.31 L211 178.3 L211.5 178.46 L212 178.63 L212.5 178.81 L213 179 L213.5 179.01 L214 179.03 L214.5 179.23 L215 179.44 L215.5 179.58 L216 179.72 L216.5 179.92 L217 180.12 L217.5 180.32 L218 180.52 L218.5 180.73 L219 180.92 L219.5 180.91 L220 180.89 L220.5 180.96 L221 181.01 L221.5 181.16 L222 181.28 L222.5 181.25 L223 181.19 L223.5 181.13 L224 181.05 L224.5 180.96 L225 180.84 L225.5 180.58 L226 180.29 L226.5 180.27 L227 180.23 L227.5 180.03 L228 179.82 L228.5 179.71 L229 179.61 L229.5 179.33 L230 179.07 L230.5 178.96 L231 178.88 L231.5 178.9 L232 178.95 L232.5 179.07 L233 179.21 L233.5 179.25 L234 179.29 L234.5 179.28 L235 179.27 L235.5 179.26 L236 179.25 L236.5 179.56 L237 179.87 L237.5 179.96 L238 180.04 L238.5 180.19 L239 180.33 L239.5 180.3 L240 180.27 L240.5 180.34 L241 180.4 L241.5 180.57 L242 180.73 L242.5 180.73 L243 180.72 L243.5 180.62 L244 180.5 L244.5 180.42 L245 180.32 L245.5 180.18 L246 180.03 L246.5 180 L247 179.97 L247.5 179.94 L248 179.92 L248.5 179.82 L249 179.74 L249.5 179.54 L250 179.37 L250.5 179.49 L251 179.64 L251.5 179.58 L252 179.54 L252.5 179.69 L253 179.86 L253.5 179.73 L254 179.62 L254.5 179.88 L255 180.14 L255.5 180.28 L256 180.43 L256.5 180.35 L257 180.27 L257.5 180.36 L258 180.42 L258.5 180.41 L259 180.37 L259.5 180.47 L260 180.54 L260.5 180.47 L261 180.38 L261.5 180.38 L262 180.36 L262.5 180.18 L263 180 L263.5 179.96 L264 179.93 L264.5 179.68 L265 179.45 L265.5 179.49 L266 179.54 L266.5 179.57 L267 179.62 L267.5 179.59 L268 179.57 L268.5 179.62 L269 179.69 L269.5 179.76 L270 179.83 L270.5 179.92 L271 180.01 L271.5 180.08 L272 180.14 L272.5 180.23 L273 180.3 L273.5 180.49 L274 180.65 L274.5 180.41 L275 180.16 L275.5 180.34 L276 180.5 L276.5 180.45 L277 180.38 L277.5 180.38 L278 180.37 L278.5 180.16 L279 179.94 L279.5 179.94 L280 179.94 L280.5 179.86 L281 179.79 L281.5 179.67 L282 179.56 L282.5 179.38 L283 179.22 L283.5 179.23 L284 179.26 L284.5 179.49 L285 179.74 L285.5 179.82 L286 179.91 L286.5 179.97 L287 180.03 L287.5 180.18 L288 180.33 L288.5 180.34 L289 180.33 L289.5 180.5 L290 180.65 L290.5 180.67 L291 180.67 L291.5 180.66 L292 180.63 L292.5 180.44 L293 180.24 L293.5 180.26 L294 180.27 L294.5 180.1 L295 179.91 L295.5 179.98 L296 180.05 L296.5 179.95 L297 179.86 L297.5 179.72 L298 179.6 L298.5 179.69 L299 179.79 L299.5 179.66 L300 179.53 L300.5 179.54 L301 179.56 L301.5 179.51 L302 179.47 L302.5 179.51 L303 179.55 L303.5 179.67 L304 179.8 L304.5 179.62 L305 179.45 L305.5 179.73 L306 180 L306.5 180.07 L307 180.14 L307.5 180.13 L308 180.12 L308.5 180.18 L309 180.24 L309.5 180.15 L310 180.06 L310.5 180.2 L311 180.33 L311.5 180.39 L312 180.45 L312.5 180.51 L313 180.56 L313.5 180.53 L314 180.5 L314.5 180.39 L315 180.27 L315.5 180.48 L316 180.68 L316.5 180.6 L317 180.51 L317.5 180.5 L318 180.49 L318.5 180.36 L319 180.22 L319.5 180.18 L320 180.15 L320.5 180.03 L321 179.91 L321.5 179.88 L322 179.85 L322.5 179.97 L323 180.08 L323.5 179.94 L324 179.79 L324.5 179.69 L325 179.58 L325.5 179.38 L326 179.18 L326.5 179.14 L327 179.1 L327.5 178.97 L328 178.85 L328.5 178.85 L329 178.85 L329.5 178.7 L330 178.53 L330.5 178.49 L331 178.46 L331.5 178.34 L332 178.22 L332.5 178.03 L333 177.86 L333.5 177.71 L334 177.59 L334.5 177.62 L335 177.66 L335.5 177.56 L336 177.45 L336.5 177.35 L337 177.24 L337.5 177.37 L338 177.49 L338.5 177.39 L339 177.3 L339.5 177.36 L340 177.42 L340.5 177.45 L341 177.47 L341.5 177.42 L342 177.37 L342.5 177.25 L343 177.12 L343.5 177.11 L344 177.1 L344.5 177.19 L345 177.27 L345.5 177.22 L346 177.17 L346.5 177.06 L347 176.95 L347.5 177.02 L348 177.09 L348.5 177.09 L349 177.08 L349.5 176.97 L350 176.86 L350.5 176.97 L351 177.09 L351.5 177.03 L352 176.98 L352.5 176.99 L353 177 L353.5 176.98 L354 176.96 L354.5 176.89 L355 176.81 L355.5 176.84 L356 176.86 L356.5 176.81 L357 176.76 L357.5 176.77 L358 176.77 L358.5 176.69 L359 176.6 L359.5 176.55 L360 176.49 L360.5 176.64 L361 176.79 L361.5 176.77 L362 176.75 L362.5 176.78 L363 176.81 L363.5 176.77 L364 176.73 L364.5 176.71 L365 176.69 L365.5 176.64 L366 176.58 L366.5 176.64 L367 176.69 L367.5 176.54 L368 176.4 L368.5 176.36 L369 176.32 L369.5 176.36 L370 176.39 L370.5 176.45 L371 176.51 L371.5 176.49 L372 176.47 L372.5 176.51 L373 176.55 L373.5 176.53 L374 176.51 L374.5 176.65 L375 176.8 L375.5 176.76 L376 176.72 L376.5 176.81 L377 176.89 L377.5 176.86 L378 176.83 L378.5 176.91 L379 176.99 L379.5 176.99 L380 176.98 L380.5 176.97 L381 176.96 L381.5 176.86 L382 176.76 L382.5 176.33 L383 175.91 L383.5 176.33 L384 176.75 L384.5 176.51 L385 176.29 L385.5 176.51 L386 176.74 L386.5 176.66 L387 176.59 L387.5 176.74 L388 176.89 L388.5 176.92 L389 176.94 L389.5 176.99 L390 177.03 L390.5 177.03 L391 177.02 L391.5 176.93 L392 176.83 L392.5 176.78 L393 176.72 L393.5 176.63 L394 176.56 L394.5 176.52 L395 176.5 L395.5 176.68 L396 176.88 L396.5 176.82 L397 176.76 L397.5 176.9 L398 177.02 L398.5 177.05 L399 177.07 L399.5 177.03 L400 176.97 L400.5 176.88 L401 176.79 L401.5 176.7 L402 176.61 L402.5 176.67 L403 176.75 L403.5 176.74 L404 176.74 L404.5 176.8 L405 176.85 L405.5 176.79 L406 176.7 L406.5 176.86 L407 177.01 L407.5 176.96 L408 176.9 L408.5 176.69 L409 176.49 L409.5 176.51 L410 176.55 L410.5 176.66 L411 176.81 L411.5 176.92 L412 177 L412.5 176.79 L413 176.52 L413.5 176.71 L414 176.89 L414.5 176.8 L415 176.72 L415.5 176.75 L416 176.82 L416.5 176.75 L417 176.7 L417.5 176.79 L418 176.8 L418.5 176.86 L419 176.88 L419.5 176.79 L420 176.75 L420.5 176.79 L421 176.88 L421 205.91 L420.5 205.88 L420 205.8 L419.5 205.82 L419 205.78 L418.5 205.74 L418 205.74 L417.5 205.67 L417 205.68 L416.5 205.85 L416 206 L415.5 205.98 L415 205.9 L414.5 205.88 L414 205.84 L413.5 205.74 L413 205.67 L412.5 205.66 L412 205.69 L411.5 206.06 L411 206.44 L410.5 206.23 L410 205.98 L409.5 205.91 L409 205.81 L408.5 205.79 L408 205.77 L407.5 205.74 L407 205.73 L406.5 205.75 L406 205.78 L405.5 205.72 L405 205.68 L404.5 205.89 L404 206.1 L403.5 206.03 L403 205.94 L402.5 205.99 L402 206.02 L401.5 205.97 L401 205.92 L400.5 205.77 L400 205.62 L399.5 205.62 L399 205.64 L398.5 205.84 L398 206.06 L397.5 205.89 L397 205.73 L396.5 205.87 L396 206.01 L395.5 206.01 L395 205.99 L394.5 205.97 L394 205.93 L393.5 205.97 L393 206 L392.5 205.86 L392 205.72 L391.5 205.69 L391 205.68 L390.5 205.68 L390 205.69 L389.5 205.81 L389 205.95 L388.5 205.88 L388 205.81 L387.5 205.79 L387 205.77 L386.5 205.82 L386 205.86 L385.5 205.92 L385 205.96 L384.5 206.09 L384 206.19 L383.5 206.17 L383 206.13 L382.5 206.09 L382 206.05 L381.5 205.97 L381 205.89 L380.5 205.88 L380 205.88 L379.5 205.75 L379 205.63 L378.5 205.83 L378 206.03 L377.5 205.89 L377 205.76 L376.5 205.81 L376 205.86 L375.5 205.84 L375 205.83 L374.5 206.14 L374 206.46 L373.5 206.35 L373 206.24 L372.5 206.19 L372 206.13 L371.5 206.14 L371 206.15 L370.5 206.17 L370 206.18 L369.5 206.14 L369 206.1 L368.5 206.27 L368 206.44 L367.5 206.21 L367 205.98 L366.5 205.93 L366 205.88 L365.5 206.02 L365 206.16 L364.5 206.11 L364 206.06 L363.5 206.03 L363 206.02 L362.5 205.92 L362 205.82 L361.5 205.82 L361 205.82 L360.5 205.76 L360 205.7 L359.5 205.87 L359 206.03 L358.5 205.9 L358 205.76 L357.5 205.76 L357 205.76 L356.5 205.7 L356 205.65 L355.5 205.66 L355 205.67 L354.5 205.77 L354 205.87 L353.5 205.74 L353 205.61 L352.5 205.59 L352 205.57 L351.5 205.7 L351 205.83 L350.5 205.76 L350 205.69 L349.5 205.58 L349 205.48 L348.5 205.5 L348 205.52 L347.5 205.53 L347 205.53 L346.5 205.49 L346 205.44 L345.5 205.51 L345 205.58 L344.5 205.54 L344 205.5 L343.5 205.5 L343 205.5 L342.5 205.41 L342 205.32 L341.5 205.31 L341 205.31 L340.5 205.2 L340 205.09 L339.5 205.09 L339 205.08 L338.5 205.17 L338 205.26 L337.5 205.14 L337 205.03 L336.5 204.98 L336 204.94 L335.5 204.85 L335 204.76 L334.5 204.87 L334 204.99 L333.5 204.97 L333 204.94 L332.5 204.78 L332 204.6 L331.5 204.56 L331 204.51 L330.5 204.25 L330 203.98 L329.5 203.87 L329 203.76 L328.5 203.71 L328 203.66 L327.5 203.47 L327 203.29 L326.5 203.2 L326 203.12 L325.5 203.14 L325 203.16 L324.5 202.95 L324 202.75 L323.5 202.75 L323 202.76 L322.5 202.62 L322 202.49 L321.5 202.5 L321 202.51 L320.5 202.49 L320 202.46 L319.5 202.29 L319 202.13 L318.5 202.27 L318 202.43 L317.5 202.29 L317 202.15 L316.5 202.09 L316 202.04 L315.5 202.02 L315 202.01 L314.5 202.03 L314 202.05 L313.5 202.31 L313 202.58 L312.5 202.27 L312 201.97 L311.5 202.02 L311 202.07 L310.5 202.23 L310 202.4 L309.5 202.44 L309 202.48 L308.5 202.42 L308 202.37 L307.5 202.7 L307 203.04 L306.5 202.83 L306 202.63 L305.5 202.76 L305 202.89 L304.5 202.88 L304 202.87 L303.5 202.86 L303 202.86 L302.5 203.08 L302 203.29 L301.5 203.13 L301 202.96 L300.5 203.11 L300 203.24 L299.5 203.21 L299 203.16 L298.5 202.93 L298 202.69 L297.5 202.65 L297 202.6 L296.5 202.55 L296 202.49 L295.5 202.32 L295 202.15 L294.5 202.09 L294 202.04 L293.5 201.97 L293 201.92 L292.5 202 L292 202.09 L291.5 202.02 L291 201.97 L290.5 202.02 L290 202.09 L289.5 202.18 L289 202.28 L288.5 202.35 L288 202.43 L287.5 202.44 L287 202.45 L286.5 202.62 L286 202.79 L285.5 202.88 L285 202.96 L284.5 202.93 L284 202.89 L283.5 203.07 L283 203.23 L282.5 203.06 L282 202.87 L281.5 202.88 L281 202.87 L280.5 202.87 L280 202.85 L279.5 202.74 L279 202.62 L278.5 202.42 L278 202.22 L277.5 202.23 L277 202.25 L276.5 202.12 L276 202 L275.5 201.95 L275 201.92 L274.5 201.93 L274 201.95 L273.5 202.08 L273 202.22 L272.5 202.17 L272 202.13 L271.5 202.28 L271 202.44 L270.5 202.54 L270 202.64 L269.5 202.84 L269 203.03 L268.5 203.13 L268 203.22 L267.5 203.11 L267 202.98 L266.5 203.02 L266 203.04 L265.5 202.97 L265 202.89 L264.5 203.03 L264 203.15 L263.5 203.03 L263 202.89 L262.5 202.62 L262 202.35 L261.5 202.27 L261 202.2 L260.5 202.1 L260 202.02 L259.5 201.97 L259 201.94 L258.5 202.01 L258 202.1 L257.5 202.03 L257 201.97 L256.5 202.08 L256 202.21 L255.5 202.55 L255 202.89 L254.5 202.78 L254 202.66 L253.5 202.83 L253 203 L252.5 203.16 L252 203.31 L251.5 203.32 L251 203.31 L250.5 203.16 L250 202.99 L249.5 203.18 L249 203.35 L248.5 203.07 L248 202.78 L247.5 202.69 L247 202.58 L246.5 202.44 L246 202.3 L245.5 202.47 L245 202.64 L244.5 202.41 L244 202.18 L243.5 202.23 L243 202.3 L242.5 202.09 L242 201.9 L241.5 201.93 L241 201.98 L240.5 202.16 L240 202.35 L239.5 202.31 L239 202.28 L238.5 202.59 L238 202.91 L237.5 202.88 L237 202.86 L236.5 202.9 L236 202.93 L235.5 203.16 L235 203.38 L234.5 203.33 L234 203.26 L233.5 203.47 L233 203.65 L232.5 203.76 L232 203.84 L231.5 203.56 L231 203.25 L230.5 203.34 L230 203.4 L229.5 203.15 L229 202.88 L228.5 202.84 L228 202.78 L227.5 202.56 L227 202.34 L226.5 202.25 L226 202.16 L225.5 202.02 L225 201.89 L224.5 201.71 L224 201.54 L223.5 201.39 L223 201.27 L222.5 201.24 L222 201.24 L221.5 201.3 L221 201.38 L220.5 201.53 L220 201.71 L219.5 201.74 L219 201.78 L218.5 201.96 L218 202.14 L217.5 202.22 L217 202.3 L216.5 202.48 L216 202.65 L215.5 202.82 L215 202.99 L214.5 203.26 L214 203.51 L213.5 203.6 L213 203.68 L212.5 203.72 L212 203.75 L211.5 203.9 L211 204.04 L210.5 204.14 L210 204.21 L209.5 204.39 L209 204.55 L208.5 204.38 L208 204.19 L207.5 204.14 L207 204.06 L206.5 204.08 L206 204.07 L205.5 204.05 L205 204.02 L204.5 203.98 L204 203.94 L203.5 203.67 L203 203.4 L202.5 203.39 L202 203.36 L201.5 203.25 L201 203.13 L200.5 202.96 L200 202.78 L199.5 202.64 L199 202.48 L198.5 202.34 L198 202.19 L197.5 201.94 L197 201.68 L196.5 201.49 L196 201.3 L195.5 201.19 L195 201.08 L194.5 200.9 L194 200.71 L193.5 200.58 L193 200.44 L192.5 200.17 L192 199.89 L191.5 199.42 L191 198.95 L190.5 198.8 L190 198.67 L189.5 198.4 L189 198.14 L188.5 198.06 L188 197.99 L187.5 197.55 L187 197.11 L186.5 196.94 L186 196.77 L185.5 196.89 L185 197.02 L184.5 196.66 L184 196.3 L183.5 196.37 L183 196.45 L182.5 196.11 L182 195.75 L181.5 195.5 L181 195.26 L180.5 195.13 L180 195.02 L179.5 194.88 L179 194.77 L178.5 194.71 L178 194.68 L177.5 194.64 L177 194.6 L176.5 194.74 L176 194.89 L175.5 194.98 L175 195.07 L174.5 194.96 L174 194.85 L173.5 194.88 L173 194.91 L172.5 194.76 L172 194.61 L171.5 194.7 L171 194.78 L170.5 195.02 L170 195.25 L169.5 195.05 L169 194.85 L168.5 194.76 L168 194.67 L167.5 194.88 L167 195.09 L166.5 194.86 L166 194.62 L165.5 194.71 L165 194.79 L164.5 194.7 L164 194.61 L163.5 194.58 L163 194.56 L162.5 194.62 L162 194.69 L161.5 194.54 L161 194.38 L160.5 194.54 L160 194.71 L159.5 194.51 L159 194.32 L158.5 194.13 L158 193.95 L157.5 194.36 L157 194.77 L156.5 194.22 L156 193.65 L155.5 193.51 L155 193.36 L154.5 193.2 L154 193.03 L153.5 193.32 L153 193.6 L152.5 193.02 L152 192.43 L151.5 192.71 L151 192.99 L150.5 193.1 L150 193.19 L149.5 193.4 L149 193.59 L148.5 193.7 L148 193.78 L147.5 194.08 L147 194.34 L146.5 194.24 L146 194.1 L145.5 193.98 L145 193.82 L144.5 193.85 L144 193.85 L143.5 193.58 L143 193.28 L142.5 193.26 L142 193.22 L141.5 192.9 L141 192.57 L140.5 192.37 L140 192.63 L139.5 192.85 L139 193.06 L138.5 193.23 L138 193.39 L137.5 193.67 L137 193.94 L136.5 194.17 L136 194.37 L135.5 194.35 L135 194.29 L134.5 194.22 L134 194.11 L133.5 194.16 L133 194.17 L132.5 194.23 L132 194.26 L131.5 193.79 L131 193.29 L130.5 193.15 L130 193 L129.5 192.87 L129 192.73 L128.5 192.92 L128 193.1 L127.5 193.46 L127 193.79 L126.5 193.68 L126 193.53 L125.5 193.6 L125 193.63 L124.5 193.65 L124 193.62 L123.5 193.71 L123 193.75 L122.5 193.53 L122 193.27 L121.5 193 L121 192.7 L120.5 192.53 L120 192.36 L119.5 192.59 L119 192.81 L118.5 193.18 L118 193.52 L117.5 193.53 L117 193.49 L116.5 193.55 L116 193.56 L115.5 193.39 L115 193.16 L114.5 192.96 L114 192.72 L113.5 192.53 L113 192.33 L112.5 192.57 L112 192.79 L111.5 193.3 L111 193.77 L110.5 193.77 L110 193.72 L109.5 193.88 L109 194 L108.5 193.98 L108 193.92 L107.5 193.66 L107 193.36 L106.5 192.84 L106 192.62 L105.5 193.06 L105 193.47 L104.5 193.77 L104 194.04 L103.5 193.9 L103 193.69 L102.5 193.53 L102 193.31 L101.5 193.27 L101 193.19 L100.5 192.97 L100 192.73 L99.5 192.78 L99 193.14 L98.5 193.12 L98 193.07 L97.5 193.34 L97 193.55 L96.5 194.45 L96 195.3 L95.5 194.4 L95 193.43 L94.5 193.14 L94 192.82 L93.5 192.66 L93 193.04 L92.5 193.92 L92 194.75 L91.5 194.38 L91 193.93 L90.5 193.85 L90 193.69 L89.5 193.71 L89 193.68 L88.5 193.06 L88 192.41Z" fill="#da2c1c" fill-opacity="0.7"/>
</g>
<line x1="194.6" y1="248.1" x2="194.6" y2="362.4" stroke="#000" stroke-width="1.6" stroke-dasharray="1.6 4.4"/>
<line x1="329.4" y1="248.1" x2="329.4" y2="362.4" stroke="#000" stroke-width="1.6" stroke-dasharray="1.6 4.4"/>
<rect x="88.0" y="0.5" width="333" height="115" fill="none" stroke="#000" stroke-width="1.8"/>
<rect x="88.0" y="124.0" width="333" height="115.3" fill="none" stroke="#000" stroke-width="1.8"/>
<rect x="88.0" y="247.6" width="333" height="114.8" fill="none" stroke="#000" stroke-width="1.8"/>
<clipPath id="cc2"><rect x="88.0" y="247.6" width="333.0" height="116.8"/></clipPath>
<g clip-path="url(#cc2)" fill="none" stroke-width="1.9" stroke-linejoin="round">
<path d="M88 287.01 L88.5 286.99 L89 286.97 L89.5 286.95 L90 286.93 L90.5 286.91 L91 286.89 L91.5 286.87 L92 286.85 L92.5 286.83 L93 286.82 L93.5 286.8 L94 286.78 L94.5 286.76 L95 286.74 L95.5 286.73 L96 286.71 L96.5 286.7 L97 286.69 L97.5 286.67 L98 286.66 L98.5 286.65 L99 286.64 L99.5 286.64 L100 286.63 L100.5 286.63 L101 286.62 L101.5 286.62 L102 286.61 L102.5 286.61 L103 286.6 L103.5 286.6 L104 286.6 L104.5 286.59 L105 286.59 L105.5 286.58 L106 286.58 L106.5 286.57 L107 286.57 L107.5 286.57 L108 286.56 L108.5 286.56 L109 286.56 L109.5 286.55 L110 286.55 L110.5 286.55 L111 286.54 L111.5 286.54 L112 286.54 L112.5 286.53 L113 286.53 L113.5 286.53 L114 286.52 L114.5 286.52 L115 286.52 L115.5 286.52 L116 286.51 L116.5 286.51 L117 286.51 L117.5 286.51 L118 286.5 L118.5 286.5 L119 286.5 L119.5 286.5 L120 286.5 L120.5 286.5 L121 286.49 L121.5 286.49 L122 286.49 L122.5 286.49 L123 286.49 L123.5 286.49 L124 286.49 L124.5 286.48 L125 286.48 L125.5 286.48 L126 286.48 L126.5 286.48 L127 286.48 L127.5 286.48 L128 286.48 L128.5 286.48 L129 286.48 L129.5 286.48 L130 286.48 L130.5 286.48 L131 286.48 L131.5 286.48 L132 286.48 L132.5 286.48 L133 286.49 L133.5 286.49 L134 286.49 L134.5 286.49 L135 286.5 L135.5 286.5 L136 286.51 L136.5 286.51 L137 286.51 L137.5 286.52 L138 286.53 L138.5 286.53 L139 286.54 L139.5 286.54 L140 286.55 L140.5 286.56 L141 286.56 L141.5 286.57 L142 286.58 L142.5 286.59 L143 286.6 L143.5 286.61 L144 286.61 L144.5 286.62 L145 286.63 L145.5 286.64 L146 286.65 L146.5 286.66 L147 286.67 L147.5 286.68 L148 286.7 L148.5 286.71 L149 286.72 L149.5 286.73 L150 286.74 L150.5 286.75 L151 286.77 L151.5 286.78 L152 286.79 L152.5 286.8 L153 286.82 L153.5 286.83 L154 286.84 L154.5 286.86 L155 286.87 L155.5 286.88 L156 286.9 L156.5 286.91 L157 286.93 L157.5 286.94 L158 286.95 L158.5 286.97 L159 286.98 L159.5 287 L160 287.01 L160.5 287.03 L161 287.05 L161.5 287.06 L162 287.08 L162.5 287.1 L163 287.12 L163.5 287.14 L164 287.17 L164.5 287.19 L165 287.22 L165.5 287.25 L166 287.27 L166.5 287.31 L167 287.34 L167.5 287.37 L168 287.41 L168.5 287.45 L169 287.49 L169.5 287.53 L170 287.58 L170.5 287.62 L171 287.67 L171.5 287.73 L172 287.78 L172.5 287.85 L173 287.93 L173.5 288.04 L174 288.16 L174.5 288.29 L175 288.44 L175.5 288.61 L176 288.78 L176.5 288.97 L177 289.16 L177.5 289.36 L178 289.58 L178.5 289.79 L179 290.01 L179.5 290.23 L180 290.46 L180.5 290.69 L181 290.95 L181.5 291.22 L182 291.51 L182.5 291.82 L183 292.15 L183.5 292.5 L184 292.87 L184.5 293.27 L185 293.69 L185.5 294.17 L186 294.7 L186.5 295.28 L187 295.9 L187.5 296.56 L188 297.24 L188.5 297.95 L189 298.67 L189.5 299.41 L190 300.15 L190.5 300.88 L191 301.61 L191.5 302.36 L192 303.14 L192.5 303.93 L193 304.74 L193.5 305.57 L194 306.43 L194.5 307.3 L195 308.19 L195.5 309.12 L196 310.12 L196.5 311.18 L197 312.27 L197.5 313.36 L198 314.42 L198.5 315.44 L199 316.39 L199.5 317.25 L200 318.03 L200.5 318.77 L201 319.48 L201.5 320.16 L202 320.81 L202.5 321.44 L203 322.04 L203.5 322.61 L204 323.17 L204.5 323.74 L205 324.32 L205.5 324.86 L206 325.35 L206.5 325.76 L207 326.05 L207.5 326.27 L208 326.47 L208.5 326.64 L209 326.76 L209.5 326.81 L210 326.75 L210.5 326.52 L211 326.13 L211.5 325.61 L212 324.98 L212.5 324.26 L213 323.48 L213.5 322.67 L214 321.83 L214.5 321 L215 320.2 L215.5 319.45 L216 318.78 L216.5 318.1 L217 317.35 L217.5 316.54 L218 315.71 L218.5 314.87 L219 314.04 L219.5 313.26 L220 312.55 L220.5 311.93 L221 311.43 L221.5 311.06 L222 310.85 L222.5 310.83 L223 311.01 L223.5 311.34 L224 311.76 L224.5 312.22 L225 312.84 L225.5 313.66 L226 314.59 L226.5 315.54 L227 316.49 L227.5 317.54 L228 318.6 L228.5 319.62 L229 320.55 L229.5 321.5 L230 322.4 L230.5 323.15 L231 323.68 L231.5 324.13 L232 324.52 L232.5 324.79 L233 324.9 L233.5 324.8 L234 324.53 L234.5 324.17 L235 323.76 L235.5 323.17 L236 322.4 L236.5 321.59 L237 320.78 L237.5 319.88 L238 318.97 L238.5 318.12 L239 317.31 L239.5 316.51 L240 315.84 L240.5 315.37 L241 314.99 L241.5 314.68 L242 314.51 L242.5 314.54 L243 314.78 L243.5 315.15 L244 315.58 L244.5 316.22 L245 317.05 L245.5 317.93 L246 318.83 L246.5 319.82 L247 320.78 L247.5 321.65 L248 322.53 L248.5 323.3 L249 323.83 L249.5 324.25 L250 324.58 L250.5 324.74 L251 324.67 L251.5 324.39 L252 324.01 L252.5 323.55 L253 322.85 L253.5 322.01 L254 321.16 L254.5 320.23 L255 319.27 L255.5 318.37 L256 317.51 L256.5 316.69 L257 316.03 L257.5 315.6 L258 315.23 L258.5 314.99 L259 314.97 L259.5 315.17 L260 315.52 L260.5 315.94 L261 316.54 L261.5 317.34 L262 318.2 L262.5 319.08 L263 320.04 L263.5 320.98 L264 321.84 L264.5 322.69 L265 323.43 L265.5 323.93 L266 324.32 L266.5 324.63 L267 324.75 L267.5 324.62 L268 324.3 L268.5 323.9 L269 323.36 L269.5 322.59 L270 321.71 L270.5 320.82 L271 319.85 L271.5 318.87 L272 317.99 L272.5 317.11 L273 316.33 L273.5 315.8 L274 315.39 L274.5 315.08 L275 314.95 L275.5 315.07 L276 315.37 L276.5 315.77 L277 316.27 L277.5 317.01 L278 317.86 L278.5 318.71 L279 319.65 L279.5 320.62 L280 321.49 L280.5 322.35 L281 323.16 L281.5 323.76 L282 324.17 L282.5 324.52 L283 324.72 L283.5 324.7 L284 324.47 L284.5 324.1 L285 323.68 L285.5 323.05 L286 322.24 L286.5 321.39 L287 320.51 L287.5 319.56 L288 318.64 L288.5 317.8 L289 316.96 L289.5 316.24 L290 315.75 L290.5 315.36 L291 315.07 L291.5 314.95 L292 315.05 L292.5 315.3 L293 315.66 L293.5 316.05 L294 316.58 L294.5 317.3 L295 318.12 L295.5 318.94 L296 319.8 L296.5 320.73 L297 321.66 L297.5 322.51 L298 323.34 L298.5 324.16 L299 324.88 L299.5 325.4 L300 325.8 L300.5 326.15 L301 326.41 L301.5 326.51 L302 326.44 L302.5 326.25 L303 325.98 L303.5 325.66 L304 325.31 L304.5 324.88 L305 324.31 L305.5 323.63 L306 322.91 L306.5 322.2 L307 321.47 L307.5 320.68 L308 319.87 L308.5 319.07 L309 318.32 L309.5 317.61 L310 316.89 L310.5 316.2 L311 315.6 L311.5 315.14 L312 314.79 L312.5 314.46 L313 314.18 L313.5 313.98 L314 313.88 L314.5 313.93 L315 314.12 L315.5 314.45 L316 314.9 L316.5 315.46 L317 316.1 L317.5 316.83 L318 317.62 L318.5 318.45 L319 319.32 L319.5 320.21 L320 321.11 L320.5 321.99 L321 322.86 L321.5 323.69 L322 324.46 L322.5 325.18 L323 325.93 L323.5 326.7 L324 327.5 L324.5 328.32 L325 329.14 L325.5 329.97 L326 330.78 L326.5 331.58 L327 332.35 L327.5 333.08 L328 333.77 L328.5 334.4 L329 334.98 L329.5 335.48 L330 335.95 L330.5 336.4 L331 336.83 L331.5 337.24 L332 337.63 L332.5 338 L333 338.34 L333.5 338.66 L334 338.95 L334.5 339.21 L335 339.44 L335.5 339.64 L336 339.82 L336.5 339.98 L337 340.12 L337.5 340.26 L338 340.39 L338.5 340.52 L339 340.66 L339.5 340.81 L340 340.97 L340.5 341.14 L341 341.31 L341.5 341.47 L342 341.64 L342.5 341.82 L343 342.01 L343.5 342.22 L344 342.44 L344.5 342.68 L345 342.95 L345.5 343.26 L346 343.6 L346.5 343.97 L347 344.37 L347.5 344.79 L348 345.23 L348.5 345.69 L349 346.15 L349.5 346.62 L350 347.09 L350.5 347.6 L351 348.16 L351.5 348.76 L352 349.39 L352.5 350.03 L353 350.68 L353.5 351.33 L354 351.95 L354.5 352.54 L355 353.08 L355.5 353.57 L356 353.98 L356.5 354.36 L357 354.75 L357.5 355.14 L358 355.52 L358.5 355.87 L359 356.2 L359.5 356.5 L360 356.74 L360.5 356.93 L361 357.06 L361.5 357.12 L362 357.09 L362.5 356.98 L363 356.81 L363.5 356.61 L364 356.38 L364.5 356.04 L365 355.64 L365.5 355.22 L366 354.81 L366.5 354.35 L367 353.89 L367.5 353.44 L368 353.03 L368.5 352.62 L369 352.24 L369.5 351.94 L370 351.73 L370.5 351.54 L371 351.39 L371.5 351.31 L372 351.32 L372.5 351.44 L373 351.6 L373.5 351.82 L374 352.14 L374.5 352.49 L375 352.87 L375.5 353.26 L376 353.63 L376.5 353.98 L377 354.29 L377.5 354.49 L378 354.64 L378.5 354.74 L379 354.73 L379.5 354.62 L380 354.47 L380.5 354.24 L381 353.93 L381.5 353.61 L382 353.26 L382.5 352.93 L383 352.62 L383.5 352.35 L384 352.18 L384.5 352.05 L385 351.99 L385.5 352.05 L386 352.19 L386.5 352.39 L387 352.69 L387.5 353 L388 353.35 L388.5 353.67 L389 353.97 L389.5 354.17 L390 354.3 L390.5 354.36 L391 354.29 L391.5 354.15 L392 353.89 L392.5 353.57 L393 353.22 L393.5 352.9 L394 352.6 L394.5 352.42 L395 352.31 L395.5 352.32 L396 352.44 L396.5 352.61 L397 352.89 L397.5 353.18 L398 353.49 L398.5 353.77 L399 353.97 L399.5 354.09 L400 354.13 L400.5 354.06 L401 353.93 L401.5 353.7 L402 353.44 L402.5 353.15 L403 352.89 L403.5 352.66 L404 352.53 L404.5 352.45 L405 352.5 L405.5 352.63 L406 352.87 L406.5 353.15 L407 353.45 L407.5 353.72 L408 353.89 L408.5 353.98 L409 353.93 L409.5 353.78 L410 353.5 L410.5 353.18 L411 352.87 L411.5 352.62 L412 352.48 L412.5 352.47 L413 352.59 L413.5 352.86 L414 353.17 L414.5 353.48 L415 353.71 L415.5 353.82 L416 353.77 L416.5 353.6 L417 353.31 L417.5 353 L418 352.75 L418.5 352.62 L419 352.61 L419.5 352.68 L420 352.82 L420.5 353.05 L421 353.37" stroke="#000"/>
<path d="M88 359.34 L88.5 360.38 L89 361.07 L89.5 361.52 L90 361.72 L90.5 361.74 L91 361.76 L91.5 361.78 L92 361.8 L92.5 361.81 L93 361.83 L93.5 361.85 L94 361.87 L94.5 361.89 L95 361.9 L95.5 361.92 L96 361.94 L96.5 361.95 L97 361.96 L97.5 361.98 L98 361.99 L98.5 362 L99 362 L99.5 362.01 L100 362.02 L100.5 362.02 L101 362.03 L101.5 362.03 L102 362.04 L102.5 362.04 L103 362.05 L103.5 362.05 L104 362.05 L104.5 362.06 L105 362.06 L105.5 362.07 L106 362.07 L106.5 362.07 L107 362.08 L107.5 362.08 L108 362.09 L108.5 362.09 L109 362.09 L109.5 362.09 L110 362.09 L110.5 362.09 L111 362.09 L111.5 362.09 L112 362.09 L112.5 362.09 L113 362.09 L113.5 362.09 L114 362.09 L114.5 362.09 L115 362.09 L115.5 362.09 L116 362.09 L116.5 362.09 L117 362.09 L117.5 362.09 L118 362.09 L118.5 362.09 L119 362.09 L119.5 362.09 L120 362.09 L120.5 362.09 L121 362.09 L121.5 362.09 L122 362.09 L122.5 362.09 L123 362.09 L123.5 362.09 L124 362.09 L124.5 362.09 L125 362.09 L125.5 362.09 L126 362.09 L126.5 362.09 L127 362.09 L127.5 362.09 L128 362.09 L128.5 362.09 L129 362.09 L129.5 362.09 L130 362.09 L130.5 362.09 L131 362.09 L131.5 362.09 L132 362.09 L132.5 362.09 L133 362.09 L133.5 362.09 L134 362.09 L134.5 362.09 L135 362.09 L135.5 362.09 L136 362.09 L136.5 362.09 L137 362.09 L137.5 362.09 L138 362.09 L138.5 362.09 L139 362.09 L139.5 362.09 L140 362.09 L140.5 362.09 L141 362.08 L141.5 362.08 L142 362.07 L142.5 362.06 L143 362.05 L143.5 362.04 L144 362.04 L144.5 362.03 L145 362.02 L145.5 362.01 L146 362 L146.5 361.99 L147 361.98 L147.5 361.97 L148 361.95 L148.5 361.94 L149 361.93 L149.5 361.92 L150 361.91 L150.5 361.9 L151 361.88 L151.5 361.87 L152 361.86 L152.5 361.85 L153 361.83 L153.5 361.82 L154 361.81 L154.5 361.79 L155 361.78 L155.5 361.77 L156 361.75 L156.5 361.74 L157 361.72 L157.5 361.71 L158 361.69 L158.5 361.68 L159 361.66 L159.5 361.65 L160 361.63 L160.5 361.62 L161 361.6 L161.5 361.59 L162 361.57 L162.5 361.55 L163 361.53 L163.5 361.51 L164 361.48 L164.5 361.46 L165 361.43 L165.5 361.4 L166 361.37 L166.5 361.34 L167 361.31 L167.5 361.28 L168 361.24 L168.5 361.2 L169 361.16 L169.5 361.12 L170 361.07 L170.5 361.03 L171 360.98 L171.5 360.92 L172 360.87 L172.5 360.8 L173 360.72 L173.5 360.61 L174 360.49 L174.5 360.36 L175 360.21 L175.5 360.04 L176 359.87 L176.5 359.68 L177 359.49 L177.5 359.28 L178 359.07 L178.5 358.86 L179 358.64 L179.5 358.42 L180 358.19 L180.5 357.96 L181 357.7 L181.5 357.43 L182 357.14 L182.5 356.83 L183 356.5 L183.5 356.15 L184 355.78 L184.5 355.38 L185 354.96 L185.5 354.48 L186 353.95 L186.5 353.37 L187 352.75 L187.5 352.09 L188 351.41 L188.5 350.7 L189 349.97 L189.5 349.24 L190 348.5 L190.5 347.77 L191 347.04 L191.5 346.28 L192 345.51 L192.5 344.72 L193 343.91 L193.5 343.08 L194 342.22 L194.5 341.35 L195 340.46 L195.5 339.53 L196 338.52 L196.5 337.47 L197 336.38 L197.5 335.29 L198 334.23 L198.5 333.21 L199 332.26 L199.5 331.4 L200 330.62 L200.5 329.88 L201 329.17 L201.5 328.49 L202 327.84 L202.5 327.21 L203 326.61 L203.5 326.04 L204 325.48 L204.5 324.91 L205 324.33 L205.5 323.79 L206 323.3 L206.5 322.89 L207 322.6 L207.5 322.38 L208 322.18 L208.5 322.01 L209 321.89 L209.5 321.84 L210 321.9 L210.5 322.13 L211 322.52 L211.5 323.04 L212 323.67 L212.5 324.39 L213 325.17 L213.5 325.98 L214 326.82 L214.5 327.65 L215 328.45 L215.5 329.2 L216 329.87 L216.5 330.55 L217 331.3 L217.5 332.11 L218 332.94 L218.5 333.78 L219 334.61 L219.5 335.38 L220 336.1 L220.5 336.72 L221 337.22 L221.5 337.59 L222 337.8 L222.5 337.82 L223 337.64 L223.5 337.31 L224 336.89 L224.5 336.43 L225 335.81 L225.5 334.99 L226 334.06 L226.5 333.11 L227 332.16 L227.5 331.11 L228 330.05 L228.5 329.03 L229 328.1 L229.5 327.15 L230 326.25 L230.5 325.5 L231 324.97 L231.5 324.52 L232 324.13 L232.5 323.86 L233 323.75 L233.5 323.85 L234 324.12 L234.5 324.48 L235 324.88 L235.5 325.48 L236 326.24 L236.5 327.06 L237 327.87 L237.5 328.77 L238 329.68 L238.5 330.53 L239 331.34 L239.5 332.14 L240 332.81 L240.5 333.28 L241 333.66 L241.5 333.97 L242 334.14 L242.5 334.11 L243 333.87 L243.5 333.5 L244 333.07 L244.5 332.43 L245 331.6 L245.5 330.72 L246 329.82 L246.5 328.83 L247 327.87 L247.5 327 L248 326.12 L248.5 325.35 L249 324.82 L249.5 324.4 L250 324.07 L250.5 323.91 L251 323.98 L251.5 324.26 L252 324.64 L252.5 325.1 L253 325.8 L253.5 326.64 L254 327.49 L254.5 328.41 L255 329.38 L255.5 330.28 L256 331.14 L256.5 331.96 L257 332.61 L257.5 333.04 L258 333.41 L258.5 333.65 L259 333.68 L259.5 333.48 L260 333.12 L260.5 332.71 L261 332.11 L261.5 331.31 L262 330.45 L262.5 329.57 L263 328.61 L263.5 327.67 L264 326.81 L264.5 325.96 L265 325.22 L265.5 324.72 L266 324.33 L266.5 324.02 L267 323.9 L267.5 324.03 L268 324.34 L268.5 324.75 L269 325.29 L269.5 326.06 L270 326.94 L270.5 327.83 L271 328.8 L271.5 329.78 L272 330.66 L272.5 331.54 L273 332.32 L273.5 332.85 L274 333.26 L274.5 333.57 L275 333.7 L275.5 333.58 L276 333.28 L276.5 332.88 L277 332.38 L277.5 331.64 L278 330.79 L278.5 329.94 L279 329 L279.5 328.03 L280 327.15 L280.5 326.3 L281 325.49 L281.5 324.89 L282 324.48 L282.5 324.13 L283 323.92 L283.5 323.95 L284 324.18 L284.5 324.55 L285 324.97 L285.5 325.6 L286 326.41 L286.5 327.26 L287 328.14 L287.5 329.09 L288 330.01 L288.5 330.85 L289 331.69 L289.5 332.41 L290 332.9 L290.5 333.29 L291 333.58 L291.5 333.7 L292 333.6 L292.5 333.35 L293 332.99 L293.5 332.6 L294 332.07 L294.5 331.35 L295 330.53 L295.5 329.71 L296 328.85 L296.5 327.92 L297 326.99 L297.5 326.14 L298 325.31 L298.5 324.49 L299 323.77 L299.5 323.25 L300 322.85 L300.5 322.5 L301 322.24 L301.5 322.14 L302 322.21 L302.5 322.4 L303 322.67 L303.5 322.99 L304 323.34 L304.5 323.76 L305 324.34 L305.5 325.01 L306 325.73 L306.5 326.45 L307 327.18 L307.5 327.97 L308 328.78 L308.5 329.58 L309 330.32 L309.5 331.03 L310 331.76 L310.5 332.45 L311 333.05 L311.5 333.51 L312 333.86 L312.5 334.19 L313 334.47 L313.5 334.67 L314 334.77 L314.5 334.72 L315 334.53 L315.5 334.2 L316 333.75 L316.5 333.19 L317 332.55 L317.5 331.82 L318 331.03 L318.5 330.2 L319 329.33 L319.5 328.44 L320 327.54 L320.5 326.66 L321 325.79 L321.5 324.96 L322 324.19 L322.5 323.47 L323 322.72 L323.5 321.95 L324 321.15 L324.5 320.33 L325 319.5 L325.5 318.68 L326 317.87 L326.5 317.07 L327 316.3 L327.5 315.57 L328 314.88 L328.5 314.25 L329 313.67 L329.5 313.17 L330 312.7 L330.5 312.25 L331 311.82 L331.5 311.41 L332 311.01 L332.5 310.65 L333 310.3 L333.5 309.99 L334 309.7 L334.5 309.44 L335 309.21 L335.5 309.01 L336 308.83 L336.5 308.67 L337 308.53 L337.5 308.39 L338 308.26 L338.5 308.13 L339 307.99 L339.5 307.84 L340 307.68 L340.5 307.51 L341 307.34 L341.5 307.18 L342 307 L342.5 306.83 L343 306.64 L343.5 306.43 L344 306.21 L344.5 305.97 L345 305.7 L345.5 305.39 L346 305.05 L346.5 304.68 L347 304.28 L347.5 303.86 L348 303.42 L348.5 302.96 L349 302.5 L349.5 302.03 L350 301.56 L350.5 301.05 L351 300.49 L351.5 299.89 L352 299.26 L352.5 298.62 L353 297.97 L353.5 297.32 L354 296.7 L354.5 296.11 L355 295.57 L355.5 295.08 L356 294.67 L356.5 294.29 L357 293.9 L357.5 293.51 L358 293.13 L358.5 292.78 L359 292.45 L359.5 292.15 L360 291.91 L360.5 291.72 L361 291.59 L361.5 291.53 L362 291.56 L362.5 291.67 L363 291.84 L363.5 292.04 L364 292.27 L364.5 292.61 L365 293.01 L365.5 293.43 L366 293.84 L366.5 294.3 L367 294.76 L367.5 295.21 L368 295.62 L368.5 296.03 L369 296.41 L369.5 296.71 L370 296.92 L370.5 297.11 L371 297.26 L371.5 297.34 L372 297.33 L372.5 297.21 L373 297.05 L373.5 296.83 L374 296.51 L374.5 296.16 L375 295.78 L375.5 295.39 L376 295.02 L376.5 294.67 L377 294.36 L377.5 294.16 L378 294.01 L378.5 293.91 L379 293.92 L379.5 294.03 L380 294.18 L380.5 294.41 L381 294.72 L381.5 295.04 L382 295.39 L382.5 295.72 L383 296.03 L383.5 296.3 L384 296.47 L384.5 296.6 L385 296.66 L385.5 296.6 L386 296.46 L386.5 296.26 L387 295.96 L387.5 295.65 L388 295.3 L388.5 294.98 L389 294.68 L389.5 294.48 L390 294.35 L390.5 294.29 L391 294.36 L391.5 294.5 L392 294.76 L392.5 295.08 L393 295.43 L393.5 295.75 L394 296.05 L394.5 296.23 L395 296.34 L395.5 296.33 L396 296.21 L396.5 296.03 L397 295.76 L397.5 295.47 L398 295.16 L398.5 294.88 L399 294.68 L399.5 294.56 L400 294.52 L400.5 294.59 L401 294.72 L401.5 294.95 L402 295.21 L402.5 295.5 L403 295.76 L403.5 295.99 L404 296.12 L404.5 296.2 L405 296.15 L405.5 296.02 L406 295.78 L406.5 295.5 L407 295.2 L407.5 294.93 L408 294.76 L408.5 294.67 L409 294.72 L409.5 294.87 L410 295.15 L410.5 295.47 L411 295.78 L411.5 296.03 L412 296.17 L412.5 296.18 L413 296.05 L413.5 295.79 L414 295.48 L414.5 295.17 L415 294.94 L415.5 294.83 L416 294.88 L416.5 295.05 L417 295.34 L417.5 295.64 L418 295.9 L418.5 296.03 L419 296.04 L419.5 295.97 L420 295.83 L420.5 295.6 L421 295.28" stroke="#dc2d1e"/>
</g>
<g font-family="'Liberation Serif', serif" stroke="#000" stroke-width="0.25">
<text x="75" y="25.25" font-size="21.3" text-anchor="end" fill="#000" >0.5</text>
<text x="75" y="73.2" font-size="21.3" text-anchor="end" fill="#000" >0</text>
<text x="75" y="121.15" font-size="21.3" text-anchor="end" fill="#000" >0.5</text>
<line x1="34.2" y1="115.65" x2="46.2" y2="115.65" stroke="#000" stroke-width="1.1"/>
<text x="75" y="148.95" font-size="21.3" text-anchor="end" fill="#000" >0.5</text>
<text x="75" y="196.9" font-size="21.3" text-anchor="end" fill="#000" >0</text>
<text x="75" y="244.85" font-size="21.3" text-anchor="end" fill="#000" >0.5</text>
<line x1="34.2" y1="239.35" x2="46.2" y2="239.35" stroke="#000" stroke-width="1.1"/>
<text x="75" y="291.37" font-size="21.3" text-anchor="end" fill="#000" >1</text>
<text x="75" y="367.9" font-size="21.3" text-anchor="end" fill="#000" >0</text>
<text x="88.2" y="389.6" font-size="21.3" text-anchor="middle" fill="#000" >0</text>
<text x="183" y="389.6" font-size="21.3" text-anchor="middle" fill="#000" >2</text>
<text x="277.8" y="389.6" font-size="21.3" text-anchor="middle" fill="#000" >4</text>
<text x="372.6" y="389.6" font-size="21.3" text-anchor="middle" fill="#000" >6</text>
<text x="254.5" y="421.3" font-size="21.3" text-anchor="middle" fill="#000" >time <tspan font-style="italic">t</tspan> (min)</text>
<text x="97" y="23.6" font-size="20.5" text-anchor="start" fill="#000" >(a)</text>
<text x="97" y="147.5" font-size="20.5" text-anchor="start" fill="#000" >(b)</text>
<text x="97" y="270.9" font-size="20.5" text-anchor="start" fill="#000" >(c)</text>
<text x="438" y="147.3" font-size="20.5" text-anchor="start" fill="#000" >(e)</text>
<text x="575.8" y="15.3" font-size="20.5" text-anchor="start" fill="#000" >(d)</text>
<text transform="translate(14.3,163.2) rotate(-90)" font-size="21.3">angle <tspan font-style="italic" font-size="22.5" dx="1" stroke-width="0.55">φ</tspan><tspan font-style="italic" font-size="15" dy="4">k</tspan><tspan dy="-4" dx="-0.3"> </tspan><tspan font-size="23">(</tspan><tspan dx="0.3">°</tspan><tspan font-size="23" dx="0.3">)</tspan></text>
<text transform="translate(48.2,317.2) rotate(-90)" font-size="21.3"><tspan font-style="italic">P</tspan><tspan font-size="19" dy="3.6" dx="-2">±</tspan></text>
<line x1="271" y1="23.1" x2="292" y2="23.1" stroke="#999999" stroke-width="1.7"/>
<text x="301.8" y="27.9" font-size="22.5" font-style="italic" fill="#000" stroke-width="0.55">φ</text>
<text x="315" y="31.8" font-size="14.6" text-anchor="start" fill="#000" >1</text>
<line x1="344" y1="23.1" x2="365" y2="23.1" stroke="#00a558" stroke-width="1.7" stroke-opacity="0.7"/>
<text x="374.8" y="27.9" font-size="22.5" font-style="italic" fill="#000" stroke-width="0.55">φ</text>
<text x="387.6" y="31.8" font-size="14.6" text-anchor="start" fill="#000" >2</text>
<line x1="261.8" y1="146.3" x2="283.6" y2="146.3" stroke="#999999" stroke-width="1.7"/>
<text x="292.6" y="151.1" font-size="22.5" font-style="italic" fill="#000" stroke-width="0.55">φ</text>
<text x="311.1" y="156.91" font-size="19" text-anchor="middle" fill="#000" stroke="none">−</text>
<line x1="339.3" y1="146.3" x2="360.4" y2="146.3" stroke="#da2c1c" stroke-width="1.7" stroke-opacity="0.7"/>
<text x="370.1" y="151.1" font-size="22.5" font-style="italic" fill="#000" stroke-width="0.55">φ</text>
<text x="388.3" y="156.91" font-size="19" text-anchor="middle" fill="#000" stroke="none">+</text>
<line x1="267.1" y1="272.6" x2="288.1" y2="272.6" stroke="#000" stroke-width="1.7"/>
<text x="297.9" y="278.3" font-size="21.3" font-style="italic" fill="#000">P</text>
<text x="314" y="282.31" font-size="19" text-anchor="middle" fill="#000" stroke="none">−</text>
<line x1="342" y1="272.6" x2="363" y2="272.6" stroke="#dc2d1e" stroke-width="1.7"/>
<text x="372.6" y="278.3" font-size="21.3" font-style="italic" fill="#000">P</text>
<text x="388" y="283.02" font-size="19" text-anchor="middle" fill="#000" stroke="none">+</text>
</g>
<line x1="429" y1="2.76" x2="599.5" y2="109.67" stroke="#a6a6a6" stroke-width="1.7" stroke-dasharray="6.6 4.9"/>
<line x1="429" y1="55.9" x2="599.5" y2="55.9" stroke="#dc2d1e" stroke-width="1.7" stroke-dasharray="6.6 4.9"/>
<path d="M429 1.4 L430 2.02 L431 2.63 L432 3.24 L433 3.85 L434 4.46 L435 5.07 L436 5.68 L437 6.29 L438 6.9 L439 7.5 L440 8.11 L441 8.72 L442 9.32 L443 9.93 L444 10.54 L445 11.14 L446 11.75 L447 12.35 L448 12.95 L449 13.56 L450 14.16 L451 14.76 L452 15.36 L453 15.96 L454 16.56 L455 17.15 L456 17.75 L457 18.35 L458 18.94 L459 19.54 L460 20.13 L461 20.72 L462 21.31 L463 21.9 L464 22.49 L465 23.08 L466 23.67 L467 24.25 L468 24.83 L469 25.42 L470 26 L471 26.57 L472 27.15 L473 27.72 L474 28.3 L475 28.87 L476 29.44 L477 30 L478 30.57 L479 31.13 L480 31.68 L481 32.24 L482 32.79 L483 33.34 L484 33.89 L485 34.43 L486 34.97 L487 35.5 L488 36.03 L489 36.56 L490 37.08 L491 37.6 L492 38.11 L493 38.61 L494 39.11 L495 39.6 L496 40.09 L497 40.57 L498 41.05 L499 41.51 L500 41.97 L501 42.42 L502 42.86 L503 43.29 L504 43.72 L505 44.13 L506 44.53 L507 44.93 L508 45.31 L509 45.68 L510 46.04 L511 46.39 L512 46.73 L513 47.06 L514 47.38 L515 47.68 L516 47.98 L517 48.26 L518 48.53 L519 48.79 L520 49.04 L521 49.28 L522 49.51 L523 49.72 L524 49.93 L525 50.13 L526 50.32 L527 50.5 L528 50.68 L529 50.84 L530 51 L531 51.15 L532 51.29 L533 51.43 L534 51.56 L535 51.68 L536 51.8 L537 51.92 L538 52.02 L539 52.13 L540 52.23 L541 52.32 L542 52.41 L543 52.5 L544 52.58 L545 52.66 L546 52.74 L547 52.81 L548 52.88 L549 52.95 L550 53.01 L551 53.08 L552 53.13 L553 53.19 L554 53.25 L555 53.3 L556 53.35 L557 53.4 L558 53.45 L559 53.5 L560 53.54 L561 53.58 L562 53.63 L563 53.67 L564 53.71 L565 53.74 L566 53.78 L567 53.82 L568 53.85 L569 53.88 L570 53.91 L571 53.95 L572 53.98 L573 54.01 L574 54.03 L575 54.06 L576 54.09 L577 54.12 L578 54.14 L579 54.17 L580 54.19 L581 54.21 L582 54.24 L583 54.26 L584 54.28 L585 54.3 L586 54.32 L587 54.34 L588 54.36 L589 54.38 L590 54.4 L591 54.42 L592 54.44 L593 54.45 L594 54.47 L595 54.49 L596 54.5 L597 54.52 L598 54.54 L599 54.55" fill="none" stroke="#000" stroke-width="1.9"/>
<path d="M429 57.26 L430 57.27 L431 57.29 L432 57.3 L433 57.32 L434 57.34 L435 57.36 L436 57.37 L437 57.39 L438 57.41 L439 57.43 L440 57.45 L441 57.47 L442 57.49 L443 57.51 L444 57.53 L445 57.55 L446 57.58 L447 57.6 L448 57.62 L449 57.65 L450 57.67 L451 57.7 L452 57.72 L453 57.75 L454 57.78 L455 57.81 L456 57.84 L457 57.87 L458 57.9 L459 57.93 L460 57.97 L461 58 L462 58.04 L463 58.08 L464 58.11 L465 58.15 L466 58.19 L467 58.24 L468 58.28 L469 58.33 L470 58.37 L471 58.42 L472 58.47 L473 58.52 L474 58.58 L475 58.64 L476 58.69 L477 58.76 L478 58.82 L479 58.89 L480 58.95 L481 59.03 L482 59.1 L483 59.18 L484 59.26 L485 59.34 L486 59.43 L487 59.53 L488 59.62 L489 59.72 L490 59.83 L491 59.94 L492 60.06 L493 60.18 L494 60.31 L495 60.44 L496 60.58 L497 60.73 L498 60.88 L499 61.04 L500 61.21 L501 61.39 L502 61.57 L503 61.77 L504 61.97 L505 62.18 L506 62.41 L507 62.64 L508 62.88 L509 63.14 L510 63.4 L511 63.68 L512 63.97 L513 64.27 L514 64.58 L515 64.9 L516 65.23 L517 65.58 L518 65.93 L519 66.3 L520 66.68 L521 67.07 L522 67.47 L523 67.88 L524 68.29 L525 68.72 L526 69.16 L527 69.6 L528 70.06 L529 70.52 L530 70.99 L531 71.47 L532 71.95 L533 72.44 L534 72.94 L535 73.44 L536 73.95 L537 74.46 L538 74.98 L539 75.5 L540 76.03 L541 76.56 L542 77.1 L543 77.64 L544 78.19 L545 78.73 L546 79.28 L547 79.84 L548 80.39 L549 80.95 L550 81.52 L551 82.08 L552 82.65 L553 83.22 L554 83.79 L555 84.36 L556 84.94 L557 85.52 L558 86.09 L559 86.67 L560 87.26 L561 87.84 L562 88.43 L563 89.01 L564 89.6 L565 90.19 L566 90.78 L567 91.37 L568 91.97 L569 92.56 L570 93.15 L571 93.75 L572 94.35 L573 94.94 L574 95.54 L575 96.14 L576 96.74 L577 97.34 L578 97.94 L579 98.55 L580 99.15 L581 99.75 L582 100.36 L583 100.96 L584 101.57 L585 102.17 L586 102.78 L587 103.39 L588 103.99 L589 104.6 L590 105.21 L591 105.82 L592 106.43 L593 107.04 L594 107.65 L595 108.26 L596 108.87 L597 109.48 L598 110.09 L599 110.7" fill="none" stroke="#000" stroke-width="1.9"/>
<path d="M514.7 30.2 L514.7 45 M511.50000000000006 39.6 L514.7 45.6 L517.9000000000001 39.6" fill="none" stroke="#000" stroke-width="1.6" stroke-linejoin="miter"/>
<path d="M514.7 81 L514.7 67 M511.50000000000006 72.2 L514.7 66.2 L517.9000000000001 72.2" fill="none" stroke="#000" stroke-width="1.6" stroke-linejoin="miter"/>
<path d="M429 115.8 L597 115.8" stroke="#000" stroke-width="1.6" fill="none"/>
<path d="M600.2 115.8 L590.8 111.8 L593.4 115.8 L590.8 119.8 Z" fill="#000"/>
<g font-family="'Liberation Serif', serif" stroke="#000" stroke-width="0.25">
<text x="514.8" y="15.8" font-size="21.3" text-anchor="middle" fill="#000" >Δ</text>
<text x="430" y="30.4" font-size="21.3" text-anchor="start" fill="#adadad" stroke="#adadad" stroke-width="0.1">Ψ</text>
<text x="452" y="35.02" font-size="19" text-anchor="middle" fill="#adadad" stroke="none">−</text>
<text x="570.7" y="75.6" font-size="21.3" text-anchor="start" fill="#dc2d1e" stroke="#dc2d1e" >Ψ</text>
<text x="593" y="79.91" font-size="19" text-anchor="middle" fill="#dc2d1e" stroke="none">+</text>
<text x="604.3" y="115.6" font-size="23.5" font-style="italic">ε</text>
</g>
<line x1="438.8" y1="124.3" x2="438.8" y2="127.5" stroke="#000" stroke-width="1.45"/>
<line x1="438.8" y1="362.4" x2="438.8" y2="359.2" stroke="#000" stroke-width="1.45"/>
<line x1="445.92" y1="124.3" x2="445.92" y2="127.5" stroke="#000" stroke-width="1.45"/>
<line x1="445.92" y1="362.4" x2="445.92" y2="359.2" stroke="#000" stroke-width="1.45"/>
<line x1="451.44" y1="124.3" x2="451.44" y2="127.5" stroke="#000" stroke-width="1.45"/>
<line x1="451.44" y1="362.4" x2="451.44" y2="359.2" stroke="#000" stroke-width="1.45"/>
<line x1="455.95" y1="124.3" x2="455.95" y2="127.5" stroke="#000" stroke-width="1.45"/>
<line x1="455.95" y1="362.4" x2="455.95" y2="359.2" stroke="#000" stroke-width="1.45"/>
<line x1="459.77" y1="124.3" x2="459.77" y2="127.5" stroke="#000" stroke-width="1.45"/>
<line x1="459.77" y1="362.4" x2="459.77" y2="359.2" stroke="#000" stroke-width="1.45"/>
<line x1="463.08" y1="124.3" x2="463.08" y2="127.5" stroke="#000" stroke-width="1.45"/>
<line x1="463.08" y1="362.4" x2="463.08" y2="359.2" stroke="#000" stroke-width="1.45"/>
<line x1="465.99" y1="124.3" x2="465.99" y2="127.5" stroke="#000" stroke-width="1.45"/>
<line x1="465.99" y1="362.4" x2="465.99" y2="359.2" stroke="#000" stroke-width="1.45"/>
<line x1="468.6" y1="124.3" x2="468.6" y2="129.6" stroke="#000" stroke-width="1.45"/>
<line x1="468.6" y1="362.4" x2="468.6" y2="357.1" stroke="#000" stroke-width="1.45"/>
<line x1="485.76" y1="124.3" x2="485.76" y2="127.5" stroke="#000" stroke-width="1.45"/>
<line x1="485.76" y1="362.4" x2="485.76" y2="359.2" stroke="#000" stroke-width="1.45"/>
<line x1="495.8" y1="124.3" x2="495.8" y2="127.5" stroke="#000" stroke-width="1.45"/>
<line x1="495.8" y1="362.4" x2="495.8" y2="359.2" stroke="#000" stroke-width="1.45"/>
<line x1="502.92" y1="124.3" x2="502.92" y2="127.5" stroke="#000" stroke-width="1.45"/>
<line x1="502.92" y1="362.4" x2="502.92" y2="359.2" stroke="#000" stroke-width="1.45"/>
<line x1="508.44" y1="124.3" x2="508.44" y2="127.5" stroke="#000" stroke-width="1.45"/>
<line x1="508.44" y1="362.4" x2="508.44" y2="359.2" stroke="#000" stroke-width="1.45"/>
<line x1="512.95" y1="124.3" x2="512.95" y2="127.5" stroke="#000" stroke-width="1.45"/>
<line x1="512.95" y1="362.4" x2="512.95" y2="359.2" stroke="#000" stroke-width="1.45"/>
<line x1="516.77" y1="124.3" x2="516.77" y2="127.5" stroke="#000" stroke-width="1.45"/>
<line x1="516.77" y1="362.4" x2="516.77" y2="359.2" stroke="#000" stroke-width="1.45"/>
<line x1="520.08" y1="124.3" x2="520.08" y2="127.5" stroke="#000" stroke-width="1.45"/>
<line x1="520.08" y1="362.4" x2="520.08" y2="359.2" stroke="#000" stroke-width="1.45"/>
<line x1="522.99" y1="124.3" x2="522.99" y2="127.5" stroke="#000" stroke-width="1.45"/>
<line x1="522.99" y1="362.4" x2="522.99" y2="359.2" stroke="#000" stroke-width="1.45"/>
<line x1="525.6" y1="124.3" x2="525.6" y2="129.6" stroke="#000" stroke-width="1.45"/>
<line x1="525.6" y1="362.4" x2="525.6" y2="357.1" stroke="#000" stroke-width="1.45"/>
<line x1="542.76" y1="124.3" x2="542.76" y2="127.5" stroke="#000" stroke-width="1.45"/>
<line x1="542.76" y1="362.4" x2="542.76" y2="359.2" stroke="#000" stroke-width="1.45"/>
<line x1="552.8" y1="124.3" x2="552.8" y2="127.5" stroke="#000" stroke-width="1.45"/>
<line x1="552.8" y1="362.4" x2="552.8" y2="359.2" stroke="#000" stroke-width="1.45"/>
<line x1="559.92" y1="124.3" x2="559.92" y2="127.5" stroke="#000" stroke-width="1.45"/>
<line x1="559.92" y1="362.4" x2="559.92" y2="359.2" stroke="#000" stroke-width="1.45"/>
<line x1="565.44" y1="124.3" x2="565.44" y2="127.5" stroke="#000" stroke-width="1.45"/>
<line x1="565.44" y1="362.4" x2="565.44" y2="359.2" stroke="#000" stroke-width="1.45"/>
<line x1="569.95" y1="124.3" x2="569.95" y2="127.5" stroke="#000" stroke-width="1.45"/>
<line x1="569.95" y1="362.4" x2="569.95" y2="359.2" stroke="#000" stroke-width="1.45"/>
<line x1="573.77" y1="124.3" x2="573.77" y2="127.5" stroke="#000" stroke-width="1.45"/>
<line x1="573.77" y1="362.4" x2="573.77" y2="359.2" stroke="#000" stroke-width="1.45"/>
<line x1="577.08" y1="124.3" x2="577.08" y2="127.5" stroke="#000" stroke-width="1.45"/>
<line x1="577.08" y1="362.4" x2="577.08" y2="359.2" stroke="#000" stroke-width="1.45"/>
<line x1="579.99" y1="124.3" x2="579.99" y2="127.5" stroke="#000" stroke-width="1.45"/>
<line x1="579.99" y1="362.4" x2="579.99" y2="359.2" stroke="#000" stroke-width="1.45"/>
<line x1="582.6" y1="124.3" x2="582.6" y2="129.6" stroke="#000" stroke-width="1.45"/>
<line x1="582.6" y1="362.4" x2="582.6" y2="357.1" stroke="#000" stroke-width="1.45"/>
<line x1="599.76" y1="124.3" x2="599.76" y2="127.5" stroke="#000" stroke-width="1.45"/>
<line x1="599.76" y1="362.4" x2="599.76" y2="359.2" stroke="#000" stroke-width="1.45"/>
<line x1="429.3" y1="327.99" x2="432.5" y2="327.99" stroke="#000" stroke-width="1.45"/>
<line x1="599.7" y1="327.99" x2="596.5" y2="327.99" stroke="#000" stroke-width="1.45"/>
<line x1="429.3" y1="307.87" x2="432.5" y2="307.87" stroke="#000" stroke-width="1.45"/>
<line x1="599.7" y1="307.87" x2="596.5" y2="307.87" stroke="#000" stroke-width="1.45"/>
<line x1="429.3" y1="293.58" x2="432.5" y2="293.58" stroke="#000" stroke-width="1.45"/>
<line x1="599.7" y1="293.58" x2="596.5" y2="293.58" stroke="#000" stroke-width="1.45"/>
<line x1="429.3" y1="282.51" x2="432.5" y2="282.51" stroke="#000" stroke-width="1.45"/>
<line x1="599.7" y1="282.51" x2="596.5" y2="282.51" stroke="#000" stroke-width="1.45"/>
<line x1="429.3" y1="273.46" x2="432.5" y2="273.46" stroke="#000" stroke-width="1.45"/>
<line x1="599.7" y1="273.46" x2="596.5" y2="273.46" stroke="#000" stroke-width="1.45"/>
<line x1="429.3" y1="265.81" x2="432.5" y2="265.81" stroke="#000" stroke-width="1.45"/>
<line x1="599.7" y1="265.81" x2="596.5" y2="265.81" stroke="#000" stroke-width="1.45"/>
<line x1="429.3" y1="259.18" x2="432.5" y2="259.18" stroke="#000" stroke-width="1.45"/>
<line x1="599.7" y1="259.18" x2="596.5" y2="259.18" stroke="#000" stroke-width="1.45"/>
<line x1="429.3" y1="253.33" x2="432.5" y2="253.33" stroke="#000" stroke-width="1.45"/>
<line x1="599.7" y1="253.33" x2="596.5" y2="253.33" stroke="#000" stroke-width="1.45"/>
<line x1="429.3" y1="248.1" x2="434.6" y2="248.1" stroke="#000" stroke-width="1.45"/>
<line x1="599.7" y1="248.1" x2="594.4" y2="248.1" stroke="#000" stroke-width="1.45"/>
<line x1="429.3" y1="213.69" x2="432.5" y2="213.69" stroke="#000" stroke-width="1.45"/>
<line x1="599.7" y1="213.69" x2="596.5" y2="213.69" stroke="#000" stroke-width="1.45"/>
<line x1="429.3" y1="193.57" x2="432.5" y2="193.57" stroke="#000" stroke-width="1.45"/>
<line x1="599.7" y1="193.57" x2="596.5" y2="193.57" stroke="#000" stroke-width="1.45"/>
<line x1="429.3" y1="179.28" x2="432.5" y2="179.28" stroke="#000" stroke-width="1.45"/>
<line x1="599.7" y1="179.28" x2="596.5" y2="179.28" stroke="#000" stroke-width="1.45"/>
<line x1="429.3" y1="168.21" x2="432.5" y2="168.21" stroke="#000" stroke-width="1.45"/>
<line x1="599.7" y1="168.21" x2="596.5" y2="168.21" stroke="#000" stroke-width="1.45"/>
<line x1="429.3" y1="159.16" x2="432.5" y2="159.16" stroke="#000" stroke-width="1.45"/>
<line x1="599.7" y1="159.16" x2="596.5" y2="159.16" stroke="#000" stroke-width="1.45"/>
<line x1="429.3" y1="151.51" x2="432.5" y2="151.51" stroke="#000" stroke-width="1.45"/>
<line x1="599.7" y1="151.51" x2="596.5" y2="151.51" stroke="#000" stroke-width="1.45"/>
<line x1="429.3" y1="144.88" x2="432.5" y2="144.88" stroke="#000" stroke-width="1.45"/>
<line x1="599.7" y1="144.88" x2="596.5" y2="144.88" stroke="#000" stroke-width="1.45"/>
<line x1="429.3" y1="139.03" x2="432.5" y2="139.03" stroke="#000" stroke-width="1.45"/>
<line x1="599.7" y1="139.03" x2="596.5" y2="139.03" stroke="#000" stroke-width="1.45"/>
<line x1="429.3" y1="133.8" x2="434.6" y2="133.8" stroke="#000" stroke-width="1.45"/>
<line x1="599.7" y1="133.8" x2="594.4" y2="133.8" stroke="#000" stroke-width="1.45"/>
<g clip-path="url(#ce)">
<path d="M422.14 311.26 L423.29 309.32 L424.45 307.37 L425.6 305.4 L426.76 303.42 L427.91 301.43 L429.07 299.43 L430.22 297.42 L431.38 295.41 L432.53 293.38 L433.69 291.35 L434.84 289.3 L436 287.25 L437.15 285.2 L438.31 283.13 L439.46 281.06 L440.62 278.99 L441.77 276.91 L442.93 274.83 L444.08 272.74 L445.24 270.65 L446.39 268.55 L447.55 266.45 L448.7 264.35 L449.86 262.25 L451.01 260.14 L452.17 258.04 L453.32 255.93 L454.48 253.82 L455.63 251.71 L456.79 249.6 L457.94 247.5 L459.1 245.39 L460.25 243.29 L461.41 241.18 L462.56 239.08 L463.72 236.99 L464.87 234.89 L466.03 232.8 L467.18 230.72 L468.34 228.64 L469.49 226.56 L470.65 224.49 L471.8 222.42 L472.95 220.37 L474.1 218.32 L475.25 216.27 L476.4 214.24 L477.55 212.21 L478.7 210.19 L479.84 208.19 L480.99 206.19 L482.13 204.2 L483.27 202.23 L484.41 200.27 L485.55 198.32 L486.69 196.38 L487.83 194.46 L488.97 192.56 L490.11 190.67 L491.25 188.8 L492.39 186.94 L493.52 185.1 L494.66 183.28 L495.8 181.48 L496.94 179.71 L498.07 177.95 L499.21 176.22 L500.35 174.5 L501.49 172.82 L502.63 171.16 L503.77 169.52 L504.91 167.91 L506.05 166.33 L507.19 164.78 L508.33 163.26 L509.48 161.77 L510.62 160.32 L511.76 158.89 L512.91 157.5 L514.06 156.15 L515.21 154.83 L516.36 153.55 L517.51 152.31 L518.66 151.1 L519.81 149.94 L520.97 148.81 L522.12 147.73 L523.28 146.69 L524.43 145.69 L525.59 144.74 L526.74 143.83 L527.9 142.96 L529.05 142.14 L530.21 141.36 L531.36 140.62 L532.52 139.93 L533.67 139.29 L534.83 138.68 L535.98 138.12 L537.14 137.6 L538.29 137.13 L539.45 136.69 L540.6 136.29 L541.76 135.93 L542.91 135.6 L544.07 135.31 L545.22 135.05 L546.38 134.82 L547.53 134.62 L548.69 134.44 L549.84 134.29 L551 134.16 L552.15 134.05 L553.31 133.96 L554.46 133.88 L555.62 133.82 L556.77 133.76 L557.93 133.72 L559.08 133.69 L560.24 133.66 L561.39 133.64 L562.55 133.63 L563.7 133.62 L564.86 133.61 L566.01 133.6 L567.17 133.6 L568.32 133.59 L569.48 133.59 L570.63 133.59 L571.79 133.59 L572.94 133.59 L574.1 133.59 L575.25 133.59 L576.41 133.59 L577.56 133.59 L578.72 133.59 L579.87 133.59 L581.03 133.59 L582.18 133.59 L583.34 133.59 L584.49 133.59 L585.65 133.59 L586.8 133.59 L587.96 133.59 L589.11 133.59 L590.27 133.59 L591.42 133.59 L592.58 133.59 L593.73 133.59 L594.89 133.59 L596.04 133.59 L597.2 133.59 L598.35 133.59 L599.51 133.59 L600.66 133.59 L601.82 133.59 L602.97 133.59 L604.13 133.59 L605.28 133.59 L605.28 133.95 L604.13 133.95 L602.97 133.95 L601.82 133.95 L600.66 133.95 L599.51 133.95 L598.35 133.95 L597.2 133.95 L596.04 133.95 L594.89 133.96 L593.73 133.96 L592.58 133.97 L591.42 133.98 L590.27 133.99 L589.11 134 L587.96 134.02 L586.8 134.05 L585.65 134.08 L584.49 134.12 L583.34 134.17 L582.18 134.23 L581.03 134.31 L579.87 134.4 L578.72 134.51 L577.56 134.63 L576.41 134.78 L575.25 134.96 L574.1 135.15 L572.94 135.38 L571.79 135.64 L570.63 135.93 L569.48 136.25 L568.32 136.61 L567.17 137 L566.01 137.44 L564.86 137.91 L563.7 138.43 L562.55 138.99 L561.39 139.59 L560.24 140.23 L559.08 140.92 L557.93 141.65 L556.77 142.43 L555.62 143.25 L554.46 144.12 L553.31 145.03 L552.15 145.99 L551 146.99 L549.84 148.03 L548.69 149.12 L547.53 150.25 L546.38 151.41 L545.22 152.63 L544.07 153.88 L542.91 155.16 L541.76 156.49 L540.6 157.86 L539.45 159.26 L538.29 160.69 L537.14 162.16 L535.98 163.66 L534.83 165.2 L533.67 166.77 L532.52 168.36 L531.36 169.99 L530.21 171.65 L529.05 173.33 L527.9 175.04 L526.74 176.78 L525.59 178.54 L524.43 180.32 L523.28 182.13 L522.12 183.96 L520.97 185.81 L519.81 187.69 L518.66 189.58 L517.5 191.49 L516.35 193.43 L515.19 195.38 L514.04 197.34 L512.88 199.33 L511.73 201.33 L510.57 203.35 L509.42 205.38 L508.26 207.42 L507.11 209.48 L505.95 211.56 L504.8 213.65 L503.64 215.75 L502.49 217.86 L501.33 219.98 L500.18 222.12 L499.02 224.27 L497.87 226.43 L496.71 228.6 L495.56 230.78 L494.4 232.97 L493.25 235.17 L492.09 237.37 L490.94 239.59 L489.78 241.82 L488.63 244.06 L487.47 246.31 L486.32 248.56 L485.16 250.83 L484.01 253.1 L482.85 255.38 L481.7 257.67 L480.54 259.97 L479.39 262.28 L478.23 264.6 L477.08 266.92 L475.92 269.25 L474.77 271.6 L473.61 273.95 L472.46 276.31 L471.3 278.68 L470.15 281.05 L468.99 283.44 L467.84 285.84 L466.68 288.25 L465.53 290.66 L464.37 293.09 L463.22 295.53 L462.06 297.98 L460.91 300.44 L459.75 302.92 L458.6 305.4 L457.44 307.9 L456.29 310.41 L455.13 312.94 L453.98 315.48 L452.82 318.04 L451.67 320.61 L450.51 323.2 L449.36 325.81 L448.2 328.43 L447.05 331.08 L445.89 333.74 L444.74 336.43 L443.58 339.15 L442.43 341.88 L441.27 344.65 L440.12 347.44 L438.96 350.26 L437.81 353.12 L436.65 356 L435.5 358.93 L434.34 361.89 L433.19 364.9 L432.03 367.95 L430.88 371.05 L429.72 374.2 L428.57 377.41 L427.41 380.68 L426.26 384.02 L425.1 387.43 L423.95 390.92 L422.79 394.5 L421.64 398.18Z" fill="#b0b0b0"/>
</g>
<g fill="none" stroke="#dc2d1e" stroke-width="1.9">
<circle cx="433.9" cy="307.6" r="2.35"/>
<circle cx="439.6" cy="303.3" r="2.35"/>
<circle cx="444.5" cy="317" r="2.35"/>
<circle cx="454.8" cy="301.2" r="2.35"/>
<circle cx="453.6" cy="263.3" r="2.35"/>
<circle cx="459.5" cy="257.7" r="2.35"/>
<circle cx="464.9" cy="261.9" r="2.35"/>
<circle cx="464.4" cy="241.8" r="2.35"/>
<circle cx="471.9" cy="224.6" r="2.35"/>
<circle cx="473.6" cy="235.9" r="2.35"/>
<circle cx="479" cy="233.5" r="2.35"/>
<circle cx="482.2" cy="242.2" r="2.35"/>
<circle cx="490" cy="235.2" r="2.35"/>
<circle cx="490" cy="228.6" r="2.35"/>
<circle cx="486" cy="222.3" r="2.35"/>
<circle cx="490" cy="215.2" r="2.35"/>
<circle cx="485.6" cy="199.5" r="2.35"/>
<circle cx="490.2" cy="201.6" r="2.35"/>
<circle cx="496.2" cy="203.3" r="2.35"/>
<circle cx="492" cy="207.7" r="2.35"/>
<circle cx="490.6" cy="209.5" r="2.35"/>
<circle cx="490.6" cy="213.9" r="2.35"/>
<circle cx="501.1" cy="181.9" r="2.35"/>
<circle cx="508.5" cy="176.6" r="2.35"/>
<circle cx="515.2" cy="177.3" r="2.35"/>
<circle cx="514.3" cy="179.6" r="2.35"/>
<circle cx="509" cy="182.2" r="2.35"/>
<circle cx="508.2" cy="184.9" r="2.35"/>
<circle cx="515.5" cy="154.1" r="2.35"/>
<circle cx="522.2" cy="152" r="2.35"/>
<circle cx="522.2" cy="157.9" r="2.35"/>
<circle cx="515.7" cy="163.4" r="2.35"/>
<circle cx="520.1" cy="164.3" r="2.35"/>
<circle cx="525.4" cy="166.7" r="2.35"/>
<circle cx="522.2" cy="170.8" r="2.35"/>
<circle cx="550.2" cy="139.3" r="2.35"/>
<circle cx="555.8" cy="138.1" r="2.35"/>
<circle cx="560.9" cy="140.1" r="2.35"/>
<circle cx="562.4" cy="145.9" r="2.35"/>
<circle cx="568.1" cy="141" r="2.35"/>
<circle cx="568.1" cy="142.8" r="2.35"/>
<circle cx="567.7" cy="144.5" r="2.35"/>
<circle cx="575.1" cy="142.5" r="2.35"/>
<circle cx="579.6" cy="138.5" r="2.35"/>
<circle cx="581.7" cy="147.4" r="2.35"/>
<circle cx="585.2" cy="140.1" r="2.35"/>
<circle cx="590.7" cy="141.6" r="2.35"/>
<circle cx="595.7" cy="144.9" r="2.35"/>
<circle cx="491.6" cy="320.1" r="2.35"/>
</g>
<g clip-path="url(#ce)">
<path d="M422.14 342.64 L423.29 340.35 L424.45 338.05 L425.6 335.75 L426.76 333.46 L427.91 331.16 L429.07 328.87 L430.22 326.58 L431.38 324.28 L432.53 321.99 L433.69 319.7 L434.84 317.42 L436 315.13 L437.15 312.84 L438.31 310.56 L439.46 308.28 L440.62 306 L441.77 303.72 L442.93 301.44 L444.08 299.17 L445.24 296.89 L446.39 294.62 L447.55 292.35 L448.7 290.09 L449.86 287.82 L451.01 285.56 L452.17 283.3 L453.32 281.04 L454.48 278.79 L455.63 276.54 L456.79 274.29 L457.94 272.05 L459.1 269.81 L460.25 267.57 L461.41 265.33 L462.56 263.1 L463.72 260.88 L464.87 258.66 L466.03 256.44 L467.18 254.22 L468.34 252.02 L469.49 249.81 L470.65 247.62 L471.8 245.42 L472.95 243.24 L474.1 241.06 L475.25 238.88 L476.4 236.72 L477.55 234.56 L478.7 232.4 L479.84 230.26 L480.99 228.12 L482.13 225.99 L483.27 223.87 L484.41 221.76 L485.55 219.66 L486.69 217.56 L487.83 215.48 L488.97 213.41 L490.11 211.35 L491.25 209.3 L492.39 207.27 L493.52 205.24 L494.66 203.23 L495.8 201.24 L496.94 199.25 L498.07 197.29 L499.21 195.34 L500.35 193.4 L501.49 191.48 L502.63 189.58 L503.77 187.7 L504.91 185.84 L506.05 184 L507.19 182.18 L508.33 180.38 L509.48 178.6 L510.62 176.85 L511.76 175.12 L512.91 173.41 L514.06 171.73 L515.21 170.08 L516.36 168.46 L517.51 166.86 L518.66 165.3 L519.81 163.76 L520.97 162.26 L522.12 160.79 L523.28 159.35 L524.43 157.95 L525.59 156.58 L526.74 155.25 L527.9 153.96 L529.05 152.71 L530.21 151.49 L531.36 150.32 L532.52 149.18 L533.67 148.09 L534.83 147.04 L535.98 146.04 L537.14 145.07 L538.29 144.15 L539.45 143.28 L540.6 142.45 L541.76 141.66 L542.91 140.92 L544.07 140.23 L545.22 139.57 L546.38 138.96 L547.53 138.4 L548.69 137.87 L549.84 137.39 L551 136.95 L552.15 136.54 L553.31 136.18 L554.46 135.85 L555.62 135.55 L556.77 135.29 L557.93 135.05 L559.08 134.85 L560.24 134.67 L561.39 134.52 L562.55 134.38 L563.7 134.27 L564.86 134.18 L566.01 134.1 L567.17 134.03 L568.32 133.98 L569.48 133.94 L570.63 133.9 L571.79 133.88 L572.94 133.86 L574.1 133.84 L575.25 133.83 L576.41 133.82 L577.56 133.81 L578.72 133.81 L579.87 133.81 L581.03 133.8 L582.18 133.8 L583.34 133.8 L584.49 133.8 L585.65 133.8 L586.8 133.8 L587.96 133.8 L589.11 133.8 L590.27 133.8 L591.42 133.8 L592.58 133.8 L593.73 133.8 L594.89 133.8 L596.04 133.8 L597.2 133.8 L598.35 133.8 L599.51 133.8 L600.66 133.8 L601.82 133.8 L602.97 133.8 L604.13 133.8 L605.28 133.8" fill="none" stroke="#000" stroke-width="1.8"/>
</g>
<rect x="429.3" y="124.3" width="170.4" height="238.1" fill="none" stroke="#000" stroke-width="1.8"/>
<g font-family="'Liberation Serif', serif" stroke="#000" stroke-width="0.25">
<text x="613.5" y="139.4" font-size="21.3" text-anchor="start" fill="#000" >1</text>
<text x="612.2" y="173.81" font-size="21.3" text-anchor="start" fill="#000" >0.5</text>
<text x="612.2" y="219.29" font-size="21.3" text-anchor="start" fill="#000" >0.2</text>
<text x="612.2" y="253.7" font-size="21.3" text-anchor="start" fill="#000" >0.1</text>
<text x="612.2" y="288.11" font-size="21.3" text-anchor="start" fill="#000" >0.05</text>
<text x="612.2" y="333.59" font-size="21.3" text-anchor="start" fill="#000" >0.02</text>
<text x="612.2" y="368" font-size="21.3" text-anchor="start" fill="#000" >0.01</text>
<text x="469.1" y="389.6" font-size="21.3" text-anchor="middle" fill="#000" >0.1</text>
<text x="526.1" y="389.6" font-size="21.3" text-anchor="middle" fill="#000" >1</text>
<text x="583.1" y="389.6" font-size="21.3" text-anchor="middle" fill="#000" >10</text>
<text x="422" y="420.8" font-size="21.3" text-anchor="start" fill="#000" >LZ parameter <tspan font-style="italic" dx="0.5">π</tspan><tspan dx="0.8">Δ</tspan><tspan font-size="15" dy="-6" dx="0.6">2</tspan><tspan dy="7.5" dx="2.6" font-size="24">/</tspan><tspan dy="-1.5" dx="3.2">2</tspan><tspan font-style="italic" dx="1.2">v</tspan></text>
<text x="510.6" y="326.2" font-size="21" text-anchor="start" fill="#000" >measured</text>
<line x1="481.2" y1="345.6" x2="501.6" y2="345.6" stroke="#000" stroke-width="1.7"/>
<text x="510.8" y="352.5" font-size="21.3" text-anchor="start" fill="#000" >1</text>
<line x1="522.2" y1="345.9" x2="537.2" y2="345.9" stroke="#000" stroke-width="1.1"/>
<text x="542.3" y="352.5" font-size="21.3" font-style="italic" fill="#000">P</text>
<text x="554.4" y="357" font-size="15" text-anchor="start" fill="#000" >LZ</text>
<g transform="translate(668.2,-0.5) rotate(90)">
<text x="157.2" y="0" font-size="21.3" text-anchor="start" fill="#000" >population</text>
<text x="252.5" y="0" font-size="21.3" font-style="italic" fill="#000">P</text>
<text x="271.7" y="6.61" font-size="19" text-anchor="middle" fill="#000" stroke="none">+</text>
<text x="276.6" y="0.8" font-size="24" text-anchor="start" fill="#000" >(</text>
<text x="285" y="0" font-size="21.3" font-style="italic" fill="#000">T</text>
<text x="300" y="1" font-size="24" text-anchor="start" fill="#000" >/</text>
<text x="309.5" y="0" font-size="21.3" text-anchor="start" fill="#000" >2</text>
<text x="318.6" y="0.8" font-size="24" text-anchor="start" fill="#000" >)</text>
<line x1="252.6" y1="-15.9" x2="265.9" y2="-15.9" stroke="#000" stroke-width="1.3"/>
</g>
</g>
</svg>
</body></html>
